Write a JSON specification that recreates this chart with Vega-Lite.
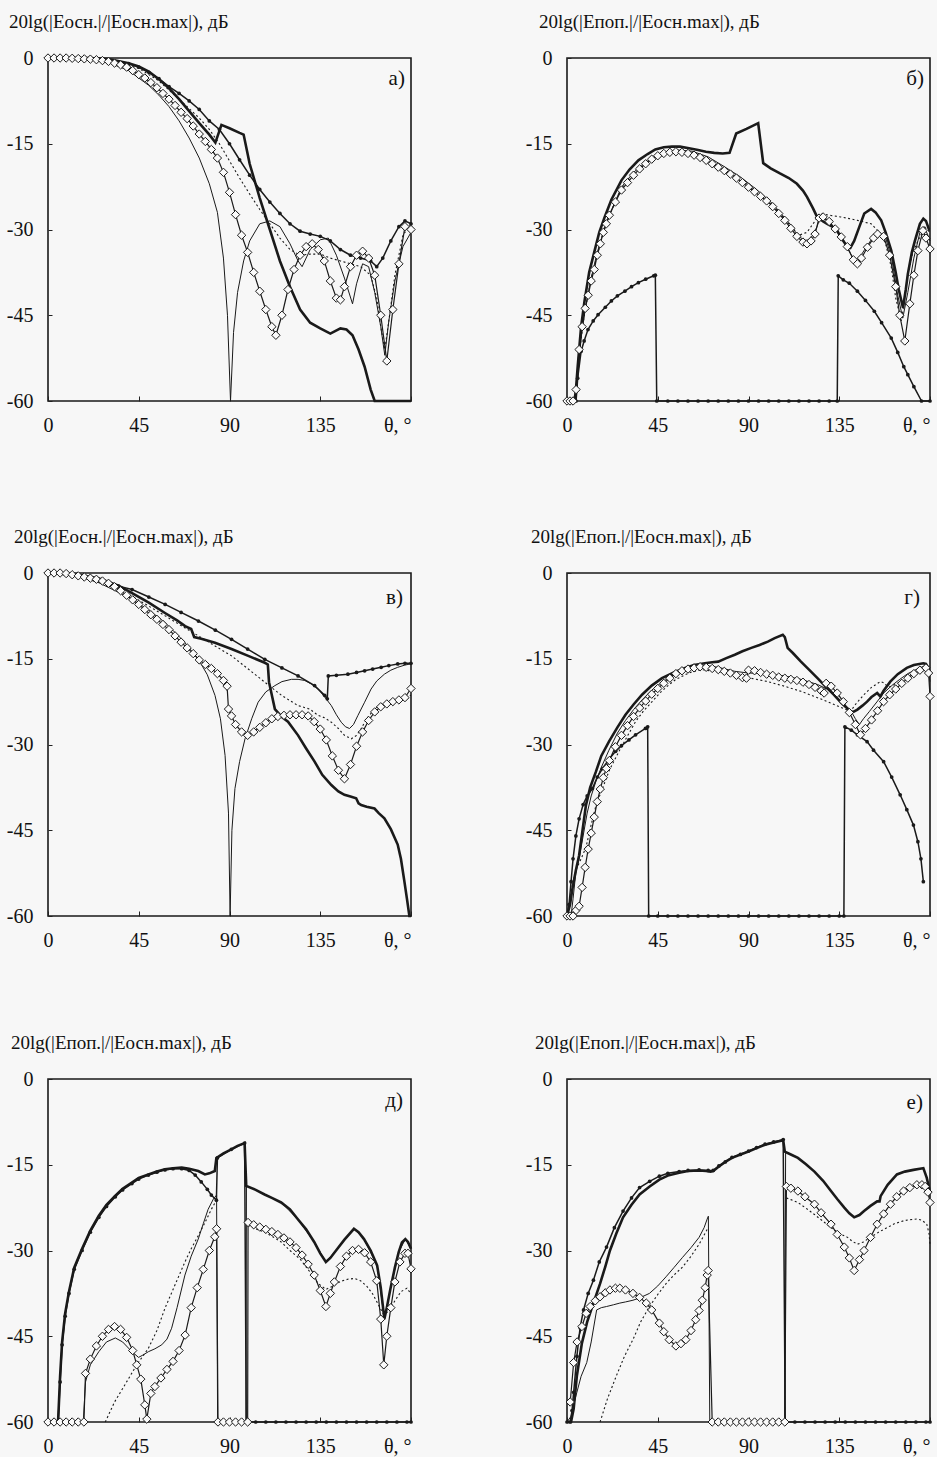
{
"$schema":"https://vega.github.io/schema/vega-lite/v6.json",
"background":"#f7f7f7",
"padding":{"left":5,"top":12,"right":0,"bottom":0},
"config":{
"view":{"stroke":"#1a1a1a","strokeWidth":1.6},
"axis":{"grid":false,"domain":false,"labelFont":"Liberation Serif","labelFontSize":20,"labelColor":"#111","tickColor":"#222","tickWidth":1,"labelOverlap":false},
"title":{"font":"Liberation Serif","fontSize":19,"fontWeight":"normal","color":"#111","anchor":"start","frame":"group","offset":16},
"line":{"color":"#1a1a1a"},
"point":{"color":"#1a1a1a"},
"text":{"color":"#111"}
},
"data":{"values":[
{"p":"a","s":"D","t":0,"v":0},{"p":"a","s":"D","t":3,"v":0},{"p":"a","s":"D","t":6,"v":0},{"p":"a","s":"D","t":9,"v":0},{"p":"a","s":"D","t":12,"v":-0.05},{"p":"a","s":"D","t":15,"v":-0.1},{"p":"a","s":"D","t":18,"v":-0.15},{"p":"a","s":"D","t":21,"v":-0.2},{"p":"a","s":"D","t":24,"v":-0.3},{"p":"a","s":"D","t":27,"v":-0.45},{"p":"a","s":"D","t":30,"v":-0.6},{"p":"a","s":"D","t":33,"v":-0.9},{"p":"a","s":"D","t":36,"v":-1.2},{"p":"a","s":"D","t":39,"v":-1.6},{"p":"a","s":"D","t":42,"v":-2.2},{"p":"a","s":"D","t":45,"v":-2.9},{"p":"a","s":"D","t":48,"v":-3.5},{"p":"a","s":"D","t":51,"v":-4.3},{"p":"a","s":"D","t":54,"v":-5.2},{"p":"a","s":"D","t":57,"v":-6.2},{"p":"a","s":"D","t":60,"v":-7.2},{"p":"a","s":"D","t":63,"v":-8.3},{"p":"a","s":"D","t":66,"v":-9.5},{"p":"a","s":"D","t":69,"v":-10.6},{"p":"a","s":"D","t":72,"v":-11.9},{"p":"a","s":"D","t":75,"v":-13.3},{"p":"a","s":"D","t":78,"v":-14.6},{"p":"a","s":"D","t":81,"v":-16},{"p":"a","s":"D","t":84,"v":-17.5},{"p":"a","s":"D","t":87,"v":-20},{"p":"a","s":"D","t":90,"v":-23.5},{"p":"a","s":"D","t":93,"v":-27.4},{"p":"a","s":"D","t":96,"v":-31},{"p":"a","s":"D","t":99,"v":-34},{"p":"a","s":"D","t":102,"v":-37.5},{"p":"a","s":"D","t":105,"v":-40.8},{"p":"a","s":"D","t":108,"v":-44},{"p":"a","s":"D","t":111,"v":-47},{"p":"a","s":"D","t":113,"v":-48.5},{"p":"a","s":"D","t":116,"v":-45},{"p":"a","s":"D","t":119,"v":-40.5},{"p":"a","s":"D","t":122,"v":-37},{"p":"a","s":"D","t":125,"v":-34.5},{"p":"a","s":"D","t":128,"v":-33},{"p":"a","s":"D","t":131,"v":-32.5},{"p":"a","s":"D","t":134,"v":-33.5},{"p":"a","s":"D","t":137,"v":-35.5},{"p":"a","s":"D","t":140,"v":-39},{"p":"a","s":"D","t":143,"v":-42},{"p":"a","s":"D","t":145,"v":-42.3},{"p":"a","s":"D","t":147,"v":-40},{"p":"a","s":"D","t":150,"v":-36.5},{"p":"a","s":"D","t":153,"v":-34.5},{"p":"a","s":"D","t":156,"v":-33.8},{"p":"a","s":"D","t":159,"v":-35},{"p":"a","s":"D","t":162,"v":-38},{"p":"a","s":"D","t":165,"v":-45},{"p":"a","s":"D","t":168,"v":-53},{"p":"a","s":"D","t":171,"v":-44},{"p":"a","s":"D","t":174,"v":-36},{"p":"a","s":"D","t":177,"v":-29.5},{"p":"a","s":"D","t":180,"v":-30},
{"p":"a","s":"K","t":0,"v":0},{"p":"a","s":"K","t":20,"v":0},{"p":"a","s":"K","t":30,"v":-0.2},{"p":"a","s":"K","t":40,"v":-0.9},{"p":"a","s":"K","t":45,"v":-1.5},{"p":"a","s":"K","t":50,"v":-2.4},{"p":"a","s":"K","t":55,"v":-3.7},{"p":"a","s":"K","t":60,"v":-5.3},{"p":"a","s":"K","t":65,"v":-7.2},{"p":"a","s":"K","t":70,"v":-9.3},{"p":"a","s":"K","t":75,"v":-11.4},{"p":"a","s":"K","t":80,"v":-13.4},{"p":"a","s":"K","t":83,"v":-14.8},{"p":"a","s":"K","t":86,"v":-11.7},{"p":"a","s":"K","t":90,"v":-12.3},{"p":"a","s":"K","t":95,"v":-13.1},{"p":"a","s":"K","t":97,"v":-13.4},{"p":"a","s":"K","t":100,"v":-18.5},{"p":"a","s":"K","t":105,"v":-24.5},{"p":"a","s":"K","t":110,"v":-30},{"p":"a","s":"K","t":115,"v":-35.5},{"p":"a","s":"K","t":120,"v":-40},{"p":"a","s":"K","t":125,"v":-44},{"p":"a","s":"K","t":130,"v":-46.3},{"p":"a","s":"K","t":135,"v":-47.3},{"p":"a","s":"K","t":140,"v":-48.2},{"p":"a","s":"K","t":145,"v":-47.3},{"p":"a","s":"K","t":148,"v":-47.5},{"p":"a","s":"K","t":151,"v":-48.5},{"p":"a","s":"K","t":154,"v":-51},{"p":"a","s":"K","t":157,"v":-54},{"p":"a","s":"K","t":160,"v":-58},{"p":"a","s":"K","t":162,"v":-60},{"p":"a","s":"K","t":170,"v":-60},{"p":"a","s":"K","t":180,"v":-60},
{"p":"a","s":"B","t":0,"v":0},{"p":"a","s":"B","t":10,"v":0},{"p":"a","s":"B","t":20,"v":-0.1},{"p":"a","s":"B","t":30,"v":-0.4},{"p":"a","s":"B","t":40,"v":-1},{"p":"a","s":"B","t":45,"v":-1.6},{"p":"a","s":"B","t":50,"v":-2.5},{"p":"a","s":"B","t":55,"v":-3.6},{"p":"a","s":"B","t":60,"v":-5},{"p":"a","s":"B","t":65,"v":-6.2},{"p":"a","s":"B","t":70,"v":-7.5},{"p":"a","s":"B","t":75,"v":-9},{"p":"a","s":"B","t":80,"v":-11},{"p":"a","s":"B","t":85,"v":-12.5},{"p":"a","s":"B","t":90,"v":-15},{"p":"a","s":"B","t":95,"v":-17.8},{"p":"a","s":"B","t":100,"v":-20.5},{"p":"a","s":"B","t":105,"v":-23},{"p":"a","s":"B","t":110,"v":-25.2},{"p":"a","s":"B","t":115,"v":-27.2},{"p":"a","s":"B","t":120,"v":-29},{"p":"a","s":"B","t":125,"v":-30.3},{"p":"a","s":"B","t":130,"v":-30.8},{"p":"a","s":"B","t":135,"v":-31.2},{"p":"a","s":"B","t":140,"v":-32},{"p":"a","s":"B","t":145,"v":-33.5},{"p":"a","s":"B","t":150,"v":-34.5},{"p":"a","s":"B","t":155,"v":-35},{"p":"a","s":"B","t":160,"v":-35.5},{"p":"a","s":"B","t":163,"v":-36.5},{"p":"a","s":"B","t":166,"v":-35},{"p":"a","s":"B","t":170,"v":-32},{"p":"a","s":"B","t":174,"v":-29.5},{"p":"a","s":"B","t":177,"v":-28.5},{"p":"a","s":"B","t":180,"v":-29},
{"p":"a","s":"N","t":0,"v":0},{"p":"a","s":"N","t":20,"v":-0.2},{"p":"a","s":"N","t":30,"v":-0.8},{"p":"a","s":"N","t":40,"v":-2.2},{"p":"a","s":"N","t":50,"v":-4.8},{"p":"a","s":"N","t":55,"v":-6.5},{"p":"a","s":"N","t":60,"v":-8.5},{"p":"a","s":"N","t":65,"v":-11},{"p":"a","s":"N","t":70,"v":-14},{"p":"a","s":"N","t":75,"v":-17.5},{"p":"a","s":"N","t":80,"v":-22},{"p":"a","s":"N","t":84,"v":-27},{"p":"a","s":"N","t":87,"v":-35},{"p":"a","s":"N","t":89,"v":-45},{"p":"a","s":"N","t":90.5,"v":-60},{"p":"a","s":"N","t":92,"v":-48},{"p":"a","s":"N","t":94,"v":-41},{"p":"a","s":"N","t":97,"v":-35.5},{"p":"a","s":"N","t":100,"v":-32},{"p":"a","s":"N","t":105,"v":-29},{"p":"a","s":"N","t":110,"v":-28.5},{"p":"a","s":"N","t":115,"v":-29.5},{"p":"a","s":"N","t":120,"v":-32.5},{"p":"a","s":"N","t":124,"v":-35.5},{"p":"a","s":"N","t":126,"v":-36.5},{"p":"a","s":"N","t":130,"v":-33.5},{"p":"a","s":"N","t":135,"v":-31.8},{"p":"a","s":"N","t":139,"v":-31.5},{"p":"a","s":"N","t":143,"v":-34.5},{"p":"a","s":"N","t":147,"v":-38.5},{"p":"a","s":"N","t":151,"v":-43},{"p":"a","s":"N","t":153,"v":-39.5},{"p":"a","s":"N","t":156,"v":-36},{"p":"a","s":"N","t":159,"v":-36.5},{"p":"a","s":"N","t":162,"v":-41},{"p":"a","s":"N","t":165,"v":-47},{"p":"a","s":"N","t":167,"v":-52},{"p":"a","s":"N","t":169,"v":-46},{"p":"a","s":"N","t":172,"v":-39},{"p":"a","s":"N","t":176,"v":-33},{"p":"a","s":"N","t":180,"v":-30.5},
{"p":"a","s":"T","t":0,"v":0},{"p":"a","s":"T","t":30,"v":-0.3},{"p":"a","s":"T","t":45,"v":-1.8},{"p":"a","s":"T","t":55,"v":-4},{"p":"a","s":"T","t":65,"v":-7.2},{"p":"a","s":"T","t":75,"v":-10.5},{"p":"a","s":"T","t":80,"v":-12.5},{"p":"a","s":"T","t":85,"v":-15},{"p":"a","s":"T","t":90,"v":-18},{"p":"a","s":"T","t":95,"v":-21},{"p":"a","s":"T","t":100,"v":-23.8},{"p":"a","s":"T","t":105,"v":-26.5},{"p":"a","s":"T","t":110,"v":-29},{"p":"a","s":"T","t":115,"v":-31.5},{"p":"a","s":"T","t":120,"v":-33.5},{"p":"a","s":"T","t":125,"v":-34.5},{"p":"a","s":"T","t":130,"v":-34.3},{"p":"a","s":"T","t":135,"v":-34.3},{"p":"a","s":"T","t":140,"v":-35},{"p":"a","s":"T","t":145,"v":-35.5},{"p":"a","s":"T","t":150,"v":-36},{"p":"a","s":"T","t":155,"v":-36.5},{"p":"a","s":"T","t":160,"v":-38},{"p":"a","s":"T","t":163,"v":-42},{"p":"a","s":"T","t":165,"v":-47},{"p":"a","s":"T","t":167,"v":-51},{"p":"a","s":"T","t":169,"v":-46},{"p":"a","s":"T","t":172,"v":-38},{"p":"a","s":"T","t":176,"v":-31},{"p":"a","s":"T","t":180,"v":-29},

{"p":"b","s":"D","t":0,"v":-60},{"p":"b","s":"D","t":1.5,"v":-60},{"p":"b","s":"D","t":3,"v":-60},{"p":"b","s":"D","t":4.5,"v":-58},{"p":"b","s":"D","t":6,"v":-51},{"p":"b","s":"D","t":7.5,"v":-47},{"p":"b","s":"D","t":9,"v":-43.8},{"p":"b","s":"D","t":10.5,"v":-41.5},{"p":"b","s":"D","t":12,"v":-39},{"p":"b","s":"D","t":13.5,"v":-37},{"p":"b","s":"D","t":15,"v":-34.5},{"p":"b","s":"D","t":16.5,"v":-32.5},{"p":"b","s":"D","t":18,"v":-30.5},{"p":"b","s":"D","t":19.5,"v":-29},{"p":"b","s":"D","t":21,"v":-27.5},{"p":"b","s":"D","t":24,"v":-25.2},{"p":"b","s":"D","t":27,"v":-23.1},{"p":"b","s":"D","t":30,"v":-21.8},{"p":"b","s":"D","t":33,"v":-20.5},{"p":"b","s":"D","t":36,"v":-19.4},{"p":"b","s":"D","t":39,"v":-18.5},{"p":"b","s":"D","t":42,"v":-17.7},{"p":"b","s":"D","t":45,"v":-17.1},{"p":"b","s":"D","t":48,"v":-16.7},{"p":"b","s":"D","t":51,"v":-16.5},{"p":"b","s":"D","t":54,"v":-16.4},{"p":"b","s":"D","t":57,"v":-16.5},{"p":"b","s":"D","t":60,"v":-16.7},{"p":"b","s":"D","t":63,"v":-17},{"p":"b","s":"D","t":66,"v":-17.4},{"p":"b","s":"D","t":69,"v":-17.9},{"p":"b","s":"D","t":72,"v":-18.5},{"p":"b","s":"D","t":75,"v":-19.1},{"p":"b","s":"D","t":78,"v":-19.7},{"p":"b","s":"D","t":81,"v":-20.3},{"p":"b","s":"D","t":84,"v":-21},{"p":"b","s":"D","t":87,"v":-21.8},{"p":"b","s":"D","t":90,"v":-22.6},{"p":"b","s":"D","t":93,"v":-23.4},{"p":"b","s":"D","t":96,"v":-24.2},{"p":"b","s":"D","t":99,"v":-25},{"p":"b","s":"D","t":102,"v":-26},{"p":"b","s":"D","t":105,"v":-27.2},{"p":"b","s":"D","t":108,"v":-28.4},{"p":"b","s":"D","t":111,"v":-29.8},{"p":"b","s":"D","t":114,"v":-31.2},{"p":"b","s":"D","t":117,"v":-32.2},{"p":"b","s":"D","t":119,"v":-32.5},{"p":"b","s":"D","t":121,"v":-32},{"p":"b","s":"D","t":123,"v":-30.8},{"p":"b","s":"D","t":125,"v":-28},{"p":"b","s":"D","t":127,"v":-27.8},{"p":"b","s":"D","t":130,"v":-28.6},{"p":"b","s":"D","t":133,"v":-29.9},{"p":"b","s":"D","t":136,"v":-31.3},{"p":"b","s":"D","t":139,"v":-33},{"p":"b","s":"D","t":142,"v":-35.3},{"p":"b","s":"D","t":144,"v":-36},{"p":"b","s":"D","t":146,"v":-35},{"p":"b","s":"D","t":149,"v":-33.1},{"p":"b","s":"D","t":152,"v":-31.5},{"p":"b","s":"D","t":154,"v":-30.8},{"p":"b","s":"D","t":157,"v":-31.2},{"p":"b","s":"D","t":160,"v":-34.5},{"p":"b","s":"D","t":163,"v":-40},{"p":"b","s":"D","t":165,"v":-45},{"p":"b","s":"D","t":167.5,"v":-49.5},{"p":"b","s":"D","t":170,"v":-43},{"p":"b","s":"D","t":172,"v":-38},{"p":"b","s":"D","t":174,"v":-33.7},{"p":"b","s":"D","t":176.5,"v":-30.2},{"p":"b","s":"D","t":178,"v":-31.5},{"p":"b","s":"D","t":180,"v":-33.4},
{"p":"b","s":"K","t":0,"v":-60},{"p":"b","s":"K","t":4,"v":-60},{"p":"b","s":"K","t":5.3,"v":-54},{"p":"b","s":"K","t":7,"v":-47},{"p":"b","s":"K","t":8.7,"v":-42.5},{"p":"b","s":"K","t":11,"v":-37.5},{"p":"b","s":"K","t":13.7,"v":-33.7},{"p":"b","s":"K","t":16,"v":-30.5},{"p":"b","s":"K","t":18.7,"v":-27.8},{"p":"b","s":"K","t":22,"v":-24.8},{"p":"b","s":"K","t":27,"v":-21.4},{"p":"b","s":"K","t":31,"v":-19.5},{"p":"b","s":"K","t":35.4,"v":-17.9},{"p":"b","s":"K","t":40,"v":-16.8},{"p":"b","s":"K","t":43.8,"v":-16},{"p":"b","s":"K","t":48,"v":-15.6},{"p":"b","s":"K","t":52,"v":-15.5},{"p":"b","s":"K","t":56,"v":-15.5},{"p":"b","s":"K","t":60.5,"v":-15.8},{"p":"b","s":"K","t":65,"v":-16.1},{"p":"b","s":"K","t":68.9,"v":-16.4},{"p":"b","s":"K","t":73,"v":-16.6},{"p":"b","s":"K","t":77.2,"v":-16.7},{"p":"b","s":"K","t":80.6,"v":-16.6},{"p":"b","s":"K","t":83.9,"v":-13.2},{"p":"b","s":"K","t":89,"v":-12.4},{"p":"b","s":"K","t":94.8,"v":-11.4},{"p":"b","s":"K","t":97.3,"v":-18.4},{"p":"b","s":"K","t":101,"v":-19.3},{"p":"b","s":"K","t":105.6,"v":-20.2},{"p":"b","s":"K","t":110,"v":-21},{"p":"b","s":"K","t":114,"v":-22},{"p":"b","s":"K","t":117,"v":-23.2},{"p":"b","s":"K","t":119,"v":-24.3},{"p":"b","s":"K","t":122,"v":-26.3},{"p":"b","s":"K","t":124,"v":-27.8},{"p":"b","s":"K","t":127,"v":-28.6},{"p":"b","s":"K","t":129,"v":-29},{"p":"b","s":"K","t":132,"v":-29.6},{"p":"b","s":"K","t":134,"v":-30.2},{"p":"b","s":"K","t":136,"v":-31.5},{"p":"b","s":"K","t":139,"v":-33},{"p":"b","s":"K","t":140.5,"v":-33.2},{"p":"b","s":"K","t":142.4,"v":-32},{"p":"b","s":"K","t":145,"v":-29.5},{"p":"b","s":"K","t":147.4,"v":-27.2},{"p":"b","s":"K","t":150.8,"v":-26.4},{"p":"b","s":"K","t":153,"v":-27},{"p":"b","s":"K","t":155.8,"v":-28.4},{"p":"b","s":"K","t":158,"v":-30.5},{"p":"b","s":"K","t":160.8,"v":-33.7},{"p":"b","s":"K","t":163,"v":-37.5},{"p":"b","s":"K","t":164.5,"v":-40.5},{"p":"b","s":"K","t":166.6,"v":-43.7},{"p":"b","s":"K","t":168,"v":-40.5},{"p":"b","s":"K","t":169,"v":-37.8},{"p":"b","s":"K","t":171,"v":-34},{"p":"b","s":"K","t":172.5,"v":-32},{"p":"b","s":"K","t":175,"v":-29},{"p":"b","s":"K","t":176.7,"v":-28.1},{"p":"b","s":"K","t":178,"v":-28.5},{"p":"b","s":"K","t":179.5,"v":-30},{"p":"b","s":"K","t":180,"v":-30},
{"p":"b","s":"B","t":0,"v":-60},{"p":"b","s":"B","t":4.5,"v":-60},{"p":"b","s":"B","t":5.3,"v":-56},{"p":"b","s":"B","t":7,"v":-51.3},{"p":"b","s":"B","t":8.5,"v":-49.5},{"p":"b","s":"B","t":10.4,"v":-47.5},{"p":"b","s":"B","t":13,"v":-46},{"p":"b","s":"B","t":15.4,"v":-44.9},{"p":"b","s":"B","t":19,"v":-43.6},{"p":"b","s":"B","t":22,"v":-42.5},{"p":"b","s":"B","t":25,"v":-41.6},{"p":"b","s":"B","t":28.7,"v":-40.8},{"p":"b","s":"B","t":32,"v":-40},{"p":"b","s":"B","t":35.4,"v":-39.3},{"p":"b","s":"B","t":39,"v":-38.7},{"p":"b","s":"B","t":43,"v":-38.1},{"p":"b","s":"B","t":43.8,"v":-38},{"p":"b","s":"B","t":44.5,"v":-60},{"p":"b","s":"B","t":50,"v":-60},{"p":"b","s":"B","t":55,"v":-60},{"p":"b","s":"B","t":60,"v":-60},{"p":"b","s":"B","t":65,"v":-60},{"p":"b","s":"B","t":70,"v":-60},{"p":"b","s":"B","t":75,"v":-60},{"p":"b","s":"B","t":80,"v":-60},{"p":"b","s":"B","t":85,"v":-60},{"p":"b","s":"B","t":90,"v":-60},{"p":"b","s":"B","t":95,"v":-60},{"p":"b","s":"B","t":100,"v":-60},{"p":"b","s":"B","t":105,"v":-60},{"p":"b","s":"B","t":110,"v":-60},{"p":"b","s":"B","t":115,"v":-60},{"p":"b","s":"B","t":120,"v":-60},{"p":"b","s":"B","t":125,"v":-60},{"p":"b","s":"B","t":130,"v":-60},{"p":"b","s":"B","t":134,"v":-60},{"p":"b","s":"B","t":134.5,"v":-38.1},{"p":"b","s":"B","t":137,"v":-38.8},{"p":"b","s":"B","t":140,"v":-39.4},{"p":"b","s":"B","t":144,"v":-40.8},{"p":"b","s":"B","t":148,"v":-42.4},{"p":"b","s":"B","t":152.4,"v":-44.3},{"p":"b","s":"B","t":156,"v":-46.3},{"p":"b","s":"B","t":160.8,"v":-49},{"p":"b","s":"B","t":164,"v":-51.5},{"p":"b","s":"B","t":167,"v":-54},{"p":"b","s":"B","t":169,"v":-55.4},{"p":"b","s":"B","t":172,"v":-57.5},{"p":"b","s":"B","t":175.8,"v":-60},{"p":"b","s":"B","t":180,"v":-60},
{"p":"b","s":"N","t":0,"v":-60},{"p":"b","s":"N","t":4.5,"v":-60},{"p":"b","s":"N","t":5.3,"v":-56},{"p":"b","s":"N","t":7,"v":-49},{"p":"b","s":"N","t":9,"v":-44},{"p":"b","s":"N","t":12,"v":-38.5},{"p":"b","s":"N","t":15,"v":-34},{"p":"b","s":"N","t":18,"v":-30.5},{"p":"b","s":"N","t":21,"v":-27.5},{"p":"b","s":"N","t":27,"v":-22.6},{"p":"b","s":"N","t":33,"v":-20},{"p":"b","s":"N","t":40,"v":-18},{"p":"b","s":"N","t":48,"v":-16.5},{"p":"b","s":"N","t":55,"v":-16.1},{"p":"b","s":"N","t":62,"v":-16.3},{"p":"b","s":"N","t":70,"v":-17.3},{"p":"b","s":"N","t":78,"v":-19},{"p":"b","s":"N","t":86,"v":-20.8},{"p":"b","s":"N","t":94,"v":-23},{"p":"b","s":"N","t":102,"v":-25.5},{"p":"b","s":"N","t":110,"v":-28.8},{"p":"b","s":"N","t":115,"v":-31.3},{"p":"b","s":"N","t":119,"v":-32},{"p":"b","s":"N","t":122,"v":-31},{"p":"b","s":"N","t":124,"v":-29.5},{"p":"b","s":"N","t":125.5,"v":-27.8},{"p":"b","s":"N","t":130,"v":-28.6},{"p":"b","s":"N","t":136,"v":-31.4},{"p":"b","s":"N","t":141,"v":-34.5},{"p":"b","s":"N","t":144,"v":-35.5},{"p":"b","s":"N","t":148,"v":-33.3},{"p":"b","s":"N","t":152,"v":-31.2},{"p":"b","s":"N","t":155,"v":-30.6},{"p":"b","s":"N","t":158,"v":-31.5},{"p":"b","s":"N","t":161,"v":-35},{"p":"b","s":"N","t":164,"v":-41.5},{"p":"b","s":"N","t":166.5,"v":-45.5},{"p":"b","s":"N","t":169,"v":-41},{"p":"b","s":"N","t":172,"v":-35},{"p":"b","s":"N","t":175,"v":-30.5},{"p":"b","s":"N","t":177,"v":-29.5},{"p":"b","s":"N","t":179,"v":-31},{"p":"b","s":"N","t":180,"v":-32},
{"p":"b","s":"T","t":0,"v":-60},{"p":"b","s":"T","t":4.5,"v":-60},{"p":"b","s":"T","t":5.3,"v":-55},{"p":"b","s":"T","t":7,"v":-49},{"p":"b","s":"T","t":9,"v":-44},{"p":"b","s":"T","t":12,"v":-38.5},{"p":"b","s":"T","t":15,"v":-34.5},{"p":"b","s":"T","t":18,"v":-30.5},{"p":"b","s":"T","t":21,"v":-27.5},{"p":"b","s":"T","t":27,"v":-22.8},{"p":"b","s":"T","t":35,"v":-19.5},{"p":"b","s":"T","t":44,"v":-17.2},{"p":"b","s":"T","t":52,"v":-16.3},{"p":"b","s":"T","t":61,"v":-16.6},{"p":"b","s":"T","t":69,"v":-17.7},{"p":"b","s":"T","t":77,"v":-19.3},{"p":"b","s":"T","t":86,"v":-21.2},{"p":"b","s":"T","t":94,"v":-23.4},{"p":"b","s":"T","t":102,"v":-25.8},{"p":"b","s":"T","t":110,"v":-29},{"p":"b","s":"T","t":115,"v":-31},{"p":"b","s":"T","t":119,"v":-30.5},{"p":"b","s":"T","t":122,"v":-29},{"p":"b","s":"T","t":125.7,"v":-27.2},{"p":"b","s":"T","t":130,"v":-27.5},{"p":"b","s":"T","t":135.7,"v":-27.8},{"p":"b","s":"T","t":140,"v":-28.1},{"p":"b","s":"T","t":144,"v":-28.4},{"p":"b","s":"T","t":150.8,"v":-29},{"p":"b","s":"T","t":155.8,"v":-30.8},{"p":"b","s":"T","t":158,"v":-32.5},{"p":"b","s":"T","t":160.8,"v":-36.6},{"p":"b","s":"T","t":163,"v":-42},{"p":"b","s":"T","t":165.8,"v":-46},{"p":"b","s":"T","t":167.5,"v":-42},{"p":"b","s":"T","t":169,"v":-37.8},{"p":"b","s":"T","t":171.5,"v":-34},{"p":"b","s":"T","t":174,"v":-32},{"p":"b","s":"T","t":177.5,"v":-29.6},{"p":"b","s":"T","t":180,"v":-30.5},

{"p":"v","s":"D","t":0,"v":0},{"p":"v","s":"D","t":3,"v":0},{"p":"v","s":"D","t":6,"v":0},{"p":"v","s":"D","t":9,"v":-0.1},{"p":"v","s":"D","t":12,"v":-0.3},{"p":"v","s":"D","t":15,"v":-0.5},{"p":"v","s":"D","t":18,"v":-0.7},{"p":"v","s":"D","t":21,"v":-0.9},{"p":"v","s":"D","t":24,"v":-1.1},{"p":"v","s":"D","t":27,"v":-1.4},{"p":"v","s":"D","t":30,"v":-1.8},{"p":"v","s":"D","t":33,"v":-2.4},{"p":"v","s":"D","t":36,"v":-3.1},{"p":"v","s":"D","t":39,"v":-3.9},{"p":"v","s":"D","t":42,"v":-4.7},{"p":"v","s":"D","t":45,"v":-5.5},{"p":"v","s":"D","t":48,"v":-6.4},{"p":"v","s":"D","t":51,"v":-7.3},{"p":"v","s":"D","t":54,"v":-8.1},{"p":"v","s":"D","t":57,"v":-9},{"p":"v","s":"D","t":60,"v":-9.9},{"p":"v","s":"D","t":63,"v":-11},{"p":"v","s":"D","t":66,"v":-12.1},{"p":"v","s":"D","t":69,"v":-13.1},{"p":"v","s":"D","t":72,"v":-14.1},{"p":"v","s":"D","t":75,"v":-15.2},{"p":"v","s":"D","t":78,"v":-16},{"p":"v","s":"D","t":81,"v":-16.7},{"p":"v","s":"D","t":84,"v":-17.6},{"p":"v","s":"D","t":87,"v":-18.8},{"p":"v","s":"D","t":88.8,"v":-19.8},{"p":"v","s":"D","t":89.5,"v":-23.8},{"p":"v","s":"D","t":91,"v":-25},{"p":"v","s":"D","t":93,"v":-26.5},{"p":"v","s":"D","t":96,"v":-27.8},{"p":"v","s":"D","t":99,"v":-28.4},{"p":"v","s":"D","t":102,"v":-27.8},{"p":"v","s":"D","t":105,"v":-27},{"p":"v","s":"D","t":108,"v":-26.2},{"p":"v","s":"D","t":111,"v":-25.5},{"p":"v","s":"D","t":114,"v":-25.1},{"p":"v","s":"D","t":117,"v":-24.9},{"p":"v","s":"D","t":120,"v":-24.8},{"p":"v","s":"D","t":123,"v":-24.8},{"p":"v","s":"D","t":126,"v":-24.8},{"p":"v","s":"D","t":129,"v":-25},{"p":"v","s":"D","t":132,"v":-26},{"p":"v","s":"D","t":135,"v":-27.3},{"p":"v","s":"D","t":138,"v":-29.2},{"p":"v","s":"D","t":141,"v":-32},{"p":"v","s":"D","t":144,"v":-34.5},{"p":"v","s":"D","t":147,"v":-36},{"p":"v","s":"D","t":150,"v":-33.5},{"p":"v","s":"D","t":153,"v":-30.3},{"p":"v","s":"D","t":156,"v":-27.8},{"p":"v","s":"D","t":159,"v":-25.8},{"p":"v","s":"D","t":162,"v":-24.3},{"p":"v","s":"D","t":165,"v":-23.4},{"p":"v","s":"D","t":168,"v":-22.9},{"p":"v","s":"D","t":171,"v":-22.5},{"p":"v","s":"D","t":174,"v":-22.2},{"p":"v","s":"D","t":177,"v":-21.8},{"p":"v","s":"D","t":180,"v":-20.2},
{"p":"v","s":"K","t":0,"v":0},{"p":"v","s":"K","t":15,"v":-0.3},{"p":"v","s":"K","t":25,"v":-0.9},{"p":"v","s":"K","t":35,"v":-2.2},{"p":"v","s":"K","t":41.7,"v":-3.5},{"p":"v","s":"K","t":50,"v":-5.2},{"p":"v","s":"K","t":58,"v":-7},{"p":"v","s":"K","t":64,"v":-8.3},{"p":"v","s":"K","t":68,"v":-9.3},{"p":"v","s":"K","t":71,"v":-9.8},{"p":"v","s":"K","t":72.5,"v":-11.2},{"p":"v","s":"K","t":76,"v":-11.5},{"p":"v","s":"K","t":82.8,"v":-12.2},{"p":"v","s":"K","t":91,"v":-13.3},{"p":"v","s":"K","t":99.3,"v":-14.5},{"p":"v","s":"K","t":107.5,"v":-15.7},{"p":"v","s":"K","t":109,"v":-16},{"p":"v","s":"K","t":109.6,"v":-19.1},{"p":"v","s":"K","t":112.5,"v":-23.8},{"p":"v","s":"K","t":116,"v":-25.2},{"p":"v","s":"K","t":119,"v":-26},{"p":"v","s":"K","t":124,"v":-28.4},{"p":"v","s":"K","t":128,"v":-30.7},{"p":"v","s":"K","t":132.2,"v":-33},{"p":"v","s":"K","t":136,"v":-35.3},{"p":"v","s":"K","t":140.5,"v":-37.1},{"p":"v","s":"K","t":144,"v":-38.2},{"p":"v","s":"K","t":147,"v":-38.8},{"p":"v","s":"K","t":150,"v":-39.1},{"p":"v","s":"K","t":152.8,"v":-39.4},{"p":"v","s":"K","t":154,"v":-40.3},{"p":"v","s":"K","t":155.3,"v":-40.6},{"p":"v","s":"K","t":158,"v":-40.9},{"p":"v","s":"K","t":161.9,"v":-41.2},{"p":"v","s":"K","t":164,"v":-42},{"p":"v","s":"K","t":166.8,"v":-42.9},{"p":"v","s":"K","t":170,"v":-44.8},{"p":"v","s":"K","t":173.4,"v":-47.5},{"p":"v","s":"K","t":175,"v":-50},{"p":"v","s":"K","t":176.7,"v":-53.9},{"p":"v","s":"K","t":178,"v":-57},{"p":"v","s":"K","t":179.2,"v":-60},{"p":"v","s":"K","t":180,"v":-60},
{"p":"v","s":"B","t":0,"v":0},{"p":"v","s":"B","t":15,"v":-0.4},{"p":"v","s":"B","t":25.2,"v":-1.4},{"p":"v","s":"B","t":35,"v":-2.3},{"p":"v","s":"B","t":41.7,"v":-2.9},{"p":"v","s":"B","t":50,"v":-4.2},{"p":"v","s":"B","t":58.1,"v":-5.5},{"p":"v","s":"B","t":66,"v":-6.9},{"p":"v","s":"B","t":74.6,"v":-8.4},{"p":"v","s":"B","t":83,"v":-10},{"p":"v","s":"B","t":91,"v":-11.6},{"p":"v","s":"B","t":99,"v":-13.3},{"p":"v","s":"B","t":107.5,"v":-15.1},{"p":"v","s":"B","t":116,"v":-16.6},{"p":"v","s":"B","t":124,"v":-18},{"p":"v","s":"B","t":132.2,"v":-19.7},{"p":"v","s":"B","t":137.2,"v":-21.4},{"p":"v","s":"B","t":138.5,"v":-22},{"p":"v","s":"B","t":139,"v":-18},{"p":"v","s":"B","t":143,"v":-17.9},{"p":"v","s":"B","t":148.7,"v":-17.7},{"p":"v","s":"B","t":153,"v":-17.4},{"p":"v","s":"B","t":157,"v":-17.1},{"p":"v","s":"B","t":161,"v":-16.8},{"p":"v","s":"B","t":165.2,"v":-16.5},{"p":"v","s":"B","t":169,"v":-16.2},{"p":"v","s":"B","t":173.4,"v":-15.9},{"p":"v","s":"B","t":177,"v":-15.8},{"p":"v","s":"B","t":180,"v":-15.8},
{"p":"v","s":"N","t":0,"v":0},{"p":"v","s":"N","t":15,"v":-0.6},{"p":"v","s":"N","t":25.2,"v":-1.7},{"p":"v","s":"N","t":35,"v":-3.4},{"p":"v","s":"N","t":41.7,"v":-4.6},{"p":"v","s":"N","t":50,"v":-6.5},{"p":"v","s":"N","t":58.1,"v":-8.7},{"p":"v","s":"N","t":66.4,"v":-11.6},{"p":"v","s":"N","t":74.6,"v":-15.1},{"p":"v","s":"N","t":79,"v":-17.8},{"p":"v","s":"N","t":82.8,"v":-21.4},{"p":"v","s":"N","t":85.5,"v":-25.5},{"p":"v","s":"N","t":87.8,"v":-31.9},{"p":"v","s":"N","t":89.5,"v":-42},{"p":"v","s":"N","t":90.3,"v":-60},{"p":"v","s":"N","t":91.2,"v":-45},{"p":"v","s":"N","t":92.7,"v":-37.7},{"p":"v","s":"N","t":95,"v":-33},{"p":"v","s":"N","t":97.7,"v":-29},{"p":"v","s":"N","t":101,"v":-25.5},{"p":"v","s":"N","t":104.2,"v":-22.6},{"p":"v","s":"N","t":108,"v":-20.8},{"p":"v","s":"N","t":112.5,"v":-19.7},{"p":"v","s":"N","t":116,"v":-19},{"p":"v","s":"N","t":120.7,"v":-18.6},{"p":"v","s":"N","t":124,"v":-18.6},{"p":"v","s":"N","t":127.3,"v":-18.8},{"p":"v","s":"N","t":130.5,"v":-19.4},{"p":"v","s":"N","t":133.9,"v":-20.3},{"p":"v","s":"N","t":137,"v":-21.6},{"p":"v","s":"N","t":140.5,"v":-23.2},{"p":"v","s":"N","t":143,"v":-24.8},{"p":"v","s":"N","t":145.4,"v":-26.1},{"p":"v","s":"N","t":147.5,"v":-26.9},{"p":"v","s":"N","t":149.5,"v":-27.2},{"p":"v","s":"N","t":151.5,"v":-26.5},{"p":"v","s":"N","t":153.7,"v":-24.9},{"p":"v","s":"N","t":157,"v":-22.6},{"p":"v","s":"N","t":160.2,"v":-20.3},{"p":"v","s":"N","t":163,"v":-18.9},{"p":"v","s":"N","t":166.8,"v":-17.7},{"p":"v","s":"N","t":170,"v":-17},{"p":"v","s":"N","t":173.4,"v":-16.5},{"p":"v","s":"N","t":177,"v":-16.1},{"p":"v","s":"N","t":180,"v":-15.9},
{"p":"v","s":"T","t":0,"v":0},{"p":"v","s":"T","t":15,"v":-0.5},{"p":"v","s":"T","t":25.2,"v":-1.4},{"p":"v","s":"T","t":33,"v":-2.7},{"p":"v","s":"T","t":41.7,"v":-4.1},{"p":"v","s":"T","t":50,"v":-5.8},{"p":"v","s":"T","t":58.1,"v":-7.5},{"p":"v","s":"T","t":66,"v":-9.2},{"p":"v","s":"T","t":74.6,"v":-11},{"p":"v","s":"T","t":83,"v":-12.8},{"p":"v","s":"T","t":91,"v":-14.5},{"p":"v","s":"T","t":99.3,"v":-16.8},{"p":"v","s":"T","t":107.5,"v":-19.1},{"p":"v","s":"T","t":115.8,"v":-21.4},{"p":"v","s":"T","t":124,"v":-23.2},{"p":"v","s":"T","t":129.8,"v":-23.8},{"p":"v","s":"T","t":133.9,"v":-24.9},{"p":"v","s":"T","t":137,"v":-25.3},{"p":"v","s":"T","t":140.5,"v":-26.1},{"p":"v","s":"T","t":144,"v":-27.2},{"p":"v","s":"T","t":147,"v":-28.4},{"p":"v","s":"T","t":150.4,"v":-29},{"p":"v","s":"T","t":153,"v":-28.4},{"p":"v","s":"T","t":155.3,"v":-27.2},{"p":"v","s":"T","t":158,"v":-25.5},{"p":"v","s":"T","t":161.9,"v":-23.8},{"p":"v","s":"T","t":165,"v":-23},{"p":"v","s":"T","t":168.5,"v":-22.6},{"p":"v","s":"T","t":174,"v":-22},{"p":"v","s":"T","t":180,"v":-21.4},

{"p":"g","s":"D","t":0,"v":-60},{"p":"g","s":"D","t":1.5,"v":-60},{"p":"g","s":"D","t":3,"v":-60},{"p":"g","s":"D","t":4.5,"v":-59},{"p":"g","s":"D","t":6,"v":-58.3},{"p":"g","s":"D","t":7.5,"v":-55},{"p":"g","s":"D","t":9,"v":-51.5},{"p":"g","s":"D","t":10.5,"v":-48.3},{"p":"g","s":"D","t":12,"v":-45.5},{"p":"g","s":"D","t":13.5,"v":-42.7},{"p":"g","s":"D","t":15,"v":-40},{"p":"g","s":"D","t":16.5,"v":-37.8},{"p":"g","s":"D","t":18,"v":-35.8},{"p":"g","s":"D","t":19.5,"v":-34.2},{"p":"g","s":"D","t":21,"v":-32.8},{"p":"g","s":"D","t":24,"v":-30.4},{"p":"g","s":"D","t":27,"v":-28.4},{"p":"g","s":"D","t":30,"v":-26.7},{"p":"g","s":"D","t":33,"v":-25.1},{"p":"g","s":"D","t":36,"v":-23.6},{"p":"g","s":"D","t":39,"v":-22.4},{"p":"g","s":"D","t":42,"v":-21.2},{"p":"g","s":"D","t":45,"v":-20.2},{"p":"g","s":"D","t":48,"v":-19.3},{"p":"g","s":"D","t":51,"v":-18.4},{"p":"g","s":"D","t":54,"v":-17.6},{"p":"g","s":"D","t":57,"v":-17.1},{"p":"g","s":"D","t":60,"v":-16.8},{"p":"g","s":"D","t":63,"v":-16.6},{"p":"g","s":"D","t":66,"v":-16.4},{"p":"g","s":"D","t":69,"v":-16.5},{"p":"g","s":"D","t":72,"v":-16.7},{"p":"g","s":"D","t":75,"v":-16.9},{"p":"g","s":"D","t":78,"v":-17.2},{"p":"g","s":"D","t":81,"v":-17.5},{"p":"g","s":"D","t":84,"v":-17.9},{"p":"g","s":"D","t":87,"v":-18.3},{"p":"g","s":"D","t":89,"v":-18.4},{"p":"g","s":"D","t":90,"v":-17},{"p":"g","s":"D","t":93,"v":-17.1},{"p":"g","s":"D","t":96,"v":-17.4},{"p":"g","s":"D","t":99,"v":-17.7},{"p":"g","s":"D","t":102,"v":-17.9},{"p":"g","s":"D","t":105,"v":-18.2},{"p":"g","s":"D","t":108,"v":-18.4},{"p":"g","s":"D","t":111,"v":-18.6},{"p":"g","s":"D","t":114,"v":-18.8},{"p":"g","s":"D","t":117,"v":-19.1},{"p":"g","s":"D","t":120,"v":-19.5},{"p":"g","s":"D","t":123,"v":-20},{"p":"g","s":"D","t":126,"v":-20.6},{"p":"g","s":"D","t":127.5,"v":-21},{"p":"g","s":"D","t":128.5,"v":-19.3},{"p":"g","s":"D","t":131,"v":-19.8},{"p":"g","s":"D","t":134,"v":-21},{"p":"g","s":"D","t":137,"v":-22.5},{"p":"g","s":"D","t":140,"v":-24.4},{"p":"g","s":"D","t":143,"v":-26.5},{"p":"g","s":"D","t":145.5,"v":-28.3},{"p":"g","s":"D","t":148,"v":-27.2},{"p":"g","s":"D","t":151,"v":-25.7},{"p":"g","s":"D","t":154,"v":-24.1},{"p":"g","s":"D","t":157,"v":-22.5},{"p":"g","s":"D","t":160,"v":-21.3},{"p":"g","s":"D","t":163,"v":-20.3},{"p":"g","s":"D","t":166,"v":-19.3},{"p":"g","s":"D","t":169,"v":-18.4},{"p":"g","s":"D","t":172,"v":-17.6},{"p":"g","s":"D","t":175,"v":-17},{"p":"g","s":"D","t":178,"v":-16.6},{"p":"g","s":"D","t":179.3,"v":-17.5},{"p":"g","s":"D","t":180,"v":-21.6},
{"p":"g","s":"K","t":0,"v":-60},{"p":"g","s":"K","t":1.5,"v":-58},{"p":"g","s":"K","t":2.8,"v":-55},{"p":"g","s":"K","t":4.4,"v":-52},{"p":"g","s":"K","t":6,"v":-49.4},{"p":"g","s":"K","t":7.7,"v":-45},{"p":"g","s":"K","t":9.4,"v":-40.6},{"p":"g","s":"K","t":11.5,"v":-37.5},{"p":"g","s":"K","t":14.3,"v":-34.8},{"p":"g","s":"K","t":17,"v":-32},{"p":"g","s":"K","t":20.8,"v":-29.5},{"p":"g","s":"K","t":25,"v":-27},{"p":"g","s":"K","t":29,"v":-24.8},{"p":"g","s":"K","t":33,"v":-23},{"p":"g","s":"K","t":37.2,"v":-21.3},{"p":"g","s":"K","t":42,"v":-19.7},{"p":"g","s":"K","t":47.1,"v":-18.4},{"p":"g","s":"K","t":53,"v":-17.4},{"p":"g","s":"K","t":58.6,"v":-16.6},{"p":"g","s":"K","t":63,"v":-16.1},{"p":"g","s":"K","t":68.4,"v":-15.8},{"p":"g","s":"K","t":72,"v":-15.6},{"p":"g","s":"K","t":75,"v":-15.5},{"p":"g","s":"K","t":79,"v":-14.9},{"p":"g","s":"K","t":83.2,"v":-14.3},{"p":"g","s":"K","t":87,"v":-13.7},{"p":"g","s":"K","t":91.4,"v":-13.1},{"p":"g","s":"K","t":95.5,"v":-12.6},{"p":"g","s":"K","t":99.6,"v":-12},{"p":"g","s":"K","t":103,"v":-11.4},{"p":"g","s":"K","t":107,"v":-10.8},{"p":"g","s":"K","t":108,"v":-11.2},{"p":"g","s":"K","t":109.4,"v":-13.1},{"p":"g","s":"K","t":112,"v":-14},{"p":"g","s":"K","t":116,"v":-15.5},{"p":"g","s":"K","t":120,"v":-16.9},{"p":"g","s":"K","t":124.2,"v":-18.4},{"p":"g","s":"K","t":128,"v":-19.8},{"p":"g","s":"K","t":132.4,"v":-21.3},{"p":"g","s":"K","t":136,"v":-22.7},{"p":"g","s":"K","t":140.6,"v":-24.2},{"p":"g","s":"K","t":142,"v":-24.3},{"p":"g","s":"K","t":144,"v":-23.9},{"p":"g","s":"K","t":146.5,"v":-23.2},{"p":"g","s":"K","t":148.8,"v":-22.5},{"p":"g","s":"K","t":151,"v":-21.7},{"p":"g","s":"K","t":153.8,"v":-21},{"p":"g","s":"K","t":155.4,"v":-21.6},{"p":"g","s":"K","t":157,"v":-20.6},{"p":"g","s":"K","t":160.3,"v":-19},{"p":"g","s":"K","t":164,"v":-17.7},{"p":"g","s":"K","t":168.5,"v":-16.6},{"p":"g","s":"K","t":172,"v":-16.1},{"p":"g","s":"K","t":176.7,"v":-15.8},{"p":"g","s":"K","t":178,"v":-15.9},{"p":"g","s":"K","t":179.2,"v":-16.6},{"p":"g","s":"K","t":180,"v":-17.8},
{"p":"g","s":"B","t":0,"v":-60},{"p":"g","s":"B","t":1,"v":-58},{"p":"g","s":"B","t":2,"v":-54},{"p":"g","s":"B","t":3,"v":-50},{"p":"g","s":"B","t":4.4,"v":-46},{"p":"g","s":"B","t":6,"v":-43},{"p":"g","s":"B","t":8,"v":-40.5},{"p":"g","s":"B","t":10,"v":-39},{"p":"g","s":"B","t":12.6,"v":-37.7},{"p":"g","s":"B","t":15,"v":-35.7},{"p":"g","s":"B","t":17.6,"v":-34.2},{"p":"g","s":"B","t":21,"v":-32.5},{"p":"g","s":"B","t":24.1,"v":-31.2},{"p":"g","s":"B","t":27,"v":-30.2},{"p":"g","s":"B","t":30.7,"v":-29.2},{"p":"g","s":"B","t":34,"v":-28.3},{"p":"g","s":"B","t":38.9,"v":-27.2},{"p":"g","s":"B","t":40,"v":-26.9},{"p":"g","s":"B","t":40.5,"v":-60},{"p":"g","s":"B","t":45,"v":-60},{"p":"g","s":"B","t":50,"v":-60},{"p":"g","s":"B","t":55,"v":-60},{"p":"g","s":"B","t":60,"v":-60},{"p":"g","s":"B","t":65,"v":-60},{"p":"g","s":"B","t":70,"v":-60},{"p":"g","s":"B","t":75,"v":-60},{"p":"g","s":"B","t":80,"v":-60},{"p":"g","s":"B","t":85,"v":-60},{"p":"g","s":"B","t":90,"v":-60},{"p":"g","s":"B","t":95,"v":-60},{"p":"g","s":"B","t":100,"v":-60},{"p":"g","s":"B","t":105,"v":-60},{"p":"g","s":"B","t":110,"v":-60},{"p":"g","s":"B","t":115,"v":-60},{"p":"g","s":"B","t":120,"v":-60},{"p":"g","s":"B","t":125,"v":-60},{"p":"g","s":"B","t":130,"v":-60},{"p":"g","s":"B","t":135,"v":-60},{"p":"g","s":"B","t":137.3,"v":-60},{"p":"g","s":"B","t":137.8,"v":-26.9},{"p":"g","s":"B","t":141,"v":-27.5},{"p":"g","s":"B","t":144,"v":-28.3},{"p":"g","s":"B","t":148.8,"v":-29.5},{"p":"g","s":"B","t":152,"v":-31},{"p":"g","s":"B","t":157,"v":-33},{"p":"g","s":"B","t":161,"v":-35.7},{"p":"g","s":"B","t":165.2,"v":-38.8},{"p":"g","s":"B","t":168.5,"v":-41.4},{"p":"g","s":"B","t":171.8,"v":-44.1},{"p":"g","s":"B","t":174,"v":-47},{"p":"g","s":"B","t":175.5,"v":-50},{"p":"g","s":"B","t":176.7,"v":-54},
{"p":"g","s":"N","t":0,"v":-60},{"p":"g","s":"N","t":2,"v":-60},{"p":"g","s":"N","t":3,"v":-57},{"p":"g","s":"N","t":4.5,"v":-52},{"p":"g","s":"N","t":6,"v":-50},{"p":"g","s":"N","t":8,"v":-46},{"p":"g","s":"N","t":10,"v":-42},{"p":"g","s":"N","t":12,"v":-39},{"p":"g","s":"N","t":14.3,"v":-36.5},{"p":"g","s":"N","t":17,"v":-34},{"p":"g","s":"N","t":20.8,"v":-31},{"p":"g","s":"N","t":25,"v":-28},{"p":"g","s":"N","t":29,"v":-25.8},{"p":"g","s":"N","t":33,"v":-23.9},{"p":"g","s":"N","t":37.2,"v":-22.2},{"p":"g","s":"N","t":42,"v":-20.5},{"p":"g","s":"N","t":47.1,"v":-19.1},{"p":"g","s":"N","t":53,"v":-17.8},{"p":"g","s":"N","t":58.6,"v":-17},{"p":"g","s":"N","t":63,"v":-16.5},{"p":"g","s":"N","t":68.4,"v":-16.2},{"p":"g","s":"N","t":75,"v":-16.5},{"p":"g","s":"N","t":83.2,"v":-17.2},{"p":"g","s":"N","t":90,"v":-17.5},{"p":"g","s":"N","t":99.6,"v":-17.6},{"p":"g","s":"N","t":107.8,"v":-18},{"p":"g","s":"N","t":116,"v":-18.6},{"p":"g","s":"N","t":124.2,"v":-19.5},{"p":"g","s":"N","t":129,"v":-20.3},{"p":"g","s":"N","t":133,"v":-21.5},{"p":"g","s":"N","t":137,"v":-22.8},{"p":"g","s":"N","t":140.6,"v":-24},{"p":"g","s":"N","t":143,"v":-25.5},{"p":"g","s":"N","t":145,"v":-26.5},{"p":"g","s":"N","t":147,"v":-25.5},{"p":"g","s":"N","t":150,"v":-24.2},{"p":"g","s":"N","t":154,"v":-22.4},{"p":"g","s":"N","t":157,"v":-21},{"p":"g","s":"N","t":161,"v":-19.7},{"p":"g","s":"N","t":165,"v":-18.6},{"p":"g","s":"N","t":169,"v":-17.6},{"p":"g","s":"N","t":173,"v":-16.9},{"p":"g","s":"N","t":177,"v":-16.3},{"p":"g","s":"N","t":179,"v":-16.8},{"p":"g","s":"N","t":180,"v":-19},
{"p":"g","s":"T","t":1,"v":-58},{"p":"g","s":"T","t":3,"v":-54},{"p":"g","s":"T","t":5,"v":-51.5},{"p":"g","s":"T","t":7,"v":-50},{"p":"g","s":"T","t":9.4,"v":-48},{"p":"g","s":"T","t":12,"v":-44},{"p":"g","s":"T","t":14.5,"v":-40.5},{"p":"g","s":"T","t":17.6,"v":-37.7},{"p":"g","s":"T","t":21,"v":-34.5},{"p":"g","s":"T","t":25.8,"v":-31.2},{"p":"g","s":"T","t":30,"v":-28.5},{"p":"g","s":"T","t":34,"v":-26},{"p":"g","s":"T","t":38,"v":-24.1},{"p":"g","s":"T","t":42.2,"v":-22.5},{"p":"g","s":"T","t":46,"v":-21},{"p":"g","s":"T","t":50.4,"v":-19.6},{"p":"g","s":"T","t":54,"v":-18.6},{"p":"g","s":"T","t":58.6,"v":-17.8},{"p":"g","s":"T","t":62,"v":-17.3},{"p":"g","s":"T","t":66.8,"v":-16.9},{"p":"g","s":"T","t":75,"v":-17.3},{"p":"g","s":"T","t":83.2,"v":-17.8},{"p":"g","s":"T","t":91,"v":-18.4},{"p":"g","s":"T","t":99.6,"v":-19},{"p":"g","s":"T","t":107.8,"v":-19.8},{"p":"g","s":"T","t":116,"v":-20.7},{"p":"g","s":"T","t":122,"v":-21.5},{"p":"g","s":"T","t":129.1,"v":-22.5},{"p":"g","s":"T","t":135,"v":-23.4},{"p":"g","s":"T","t":140.6,"v":-24.2},{"p":"g","s":"T","t":143,"v":-23},{"p":"g","s":"T","t":147.2,"v":-21.3},{"p":"g","s":"T","t":151,"v":-20},{"p":"g","s":"T","t":155.4,"v":-19},{"p":"g","s":"T","t":157,"v":-19.2},{"p":"g","s":"T","t":158.5,"v":-19.7},{"p":"g","s":"T","t":160.3,"v":-19.9},{"p":"g","s":"T","t":164,"v":-19.3},{"p":"g","s":"T","t":168.5,"v":-18.4},{"p":"g","s":"T","t":173,"v":-17.6},{"p":"g","s":"T","t":178.3,"v":-16.9},{"p":"g","s":"T","t":180,"v":-17.5},

{"p":"d","s":"D","t":0,"v":-60},{"p":"d","s":"D","t":3,"v":-60},{"p":"d","s":"D","t":6,"v":-60},{"p":"d","s":"D","t":9,"v":-60},{"p":"d","s":"D","t":12,"v":-60},{"p":"d","s":"D","t":15,"v":-60},{"p":"d","s":"D","t":17.8,"v":-60},{"p":"d","s":"D","t":18.6,"v":-51.5},{"p":"d","s":"D","t":21,"v":-49},{"p":"d","s":"D","t":24,"v":-46.7},{"p":"d","s":"D","t":27,"v":-45},{"p":"d","s":"D","t":30,"v":-43.8},{"p":"d","s":"D","t":33,"v":-43.3},{"p":"d","s":"D","t":36,"v":-43.8},{"p":"d","s":"D","t":39,"v":-45.2},{"p":"d","s":"D","t":42,"v":-47.5},{"p":"d","s":"D","t":44,"v":-50},{"p":"d","s":"D","t":46,"v":-52.5},{"p":"d","s":"D","t":48,"v":-57},{"p":"d","s":"D","t":49,"v":-59.5},{"p":"d","s":"D","t":51,"v":-55},{"p":"d","s":"D","t":53,"v":-53.8},{"p":"d","s":"D","t":56,"v":-52.3},{"p":"d","s":"D","t":59,"v":-50.8},{"p":"d","s":"D","t":62,"v":-49.4},{"p":"d","s":"D","t":65,"v":-47.5},{"p":"d","s":"D","t":68,"v":-44.8},{"p":"d","s":"D","t":71,"v":-40},{"p":"d","s":"D","t":74,"v":-36.5},{"p":"d","s":"D","t":77,"v":-33.3},{"p":"d","s":"D","t":80,"v":-30},{"p":"d","s":"D","t":82.7,"v":-27.6},{"p":"d","s":"D","t":83.6,"v":-26.2},{"p":"d","s":"D","t":84.3,"v":-60},{"p":"d","s":"D","t":87,"v":-60},{"p":"d","s":"D","t":90,"v":-60},{"p":"d","s":"D","t":93,"v":-60},{"p":"d","s":"D","t":96,"v":-60},{"p":"d","s":"D","t":99,"v":-60},{"p":"d","s":"D","t":99.2,"v":-25.1},{"p":"d","s":"D","t":102,"v":-25.5},{"p":"d","s":"D","t":105,"v":-25.9},{"p":"d","s":"D","t":108,"v":-26.3},{"p":"d","s":"D","t":111,"v":-26.7},{"p":"d","s":"D","t":114,"v":-27.2},{"p":"d","s":"D","t":117,"v":-27.8},{"p":"d","s":"D","t":120,"v":-28.5},{"p":"d","s":"D","t":123,"v":-29.5},{"p":"d","s":"D","t":126,"v":-30.8},{"p":"d","s":"D","t":129,"v":-32.4},{"p":"d","s":"D","t":132,"v":-34.3},{"p":"d","s":"D","t":135,"v":-37},{"p":"d","s":"D","t":137.8,"v":-39.8},{"p":"d","s":"D","t":140,"v":-37.5},{"p":"d","s":"D","t":142,"v":-35.5},{"p":"d","s":"D","t":145,"v":-32.8},{"p":"d","s":"D","t":148,"v":-31},{"p":"d","s":"D","t":151,"v":-30},{"p":"d","s":"D","t":154,"v":-29.8},{"p":"d","s":"D","t":157,"v":-30.4},{"p":"d","s":"D","t":160,"v":-32},{"p":"d","s":"D","t":163,"v":-35.3},{"p":"d","s":"D","t":165,"v":-42},{"p":"d","s":"D","t":166.5,"v":-50},{"p":"d","s":"D","t":168,"v":-45},{"p":"d","s":"D","t":170,"v":-40},{"p":"d","s":"D","t":172,"v":-35.5},{"p":"d","s":"D","t":174.5,"v":-32},{"p":"d","s":"D","t":177,"v":-30.5},{"p":"d","s":"D","t":178.5,"v":-30.5},{"p":"d","s":"D","t":180,"v":-33.2},
{"p":"d","s":"K","t":0,"v":-60},{"p":"d","s":"K","t":5,"v":-60},{"p":"d","s":"K","t":6,"v":-52},{"p":"d","s":"K","t":7,"v":-46},{"p":"d","s":"K","t":8.5,"v":-41},{"p":"d","s":"K","t":10.4,"v":-37.2},{"p":"d","s":"K","t":13,"v":-33},{"p":"d","s":"K","t":16.9,"v":-29.7},{"p":"d","s":"K","t":21,"v":-26.5},{"p":"d","s":"K","t":25.2,"v":-23.9},{"p":"d","s":"K","t":29,"v":-22},{"p":"d","s":"K","t":33.4,"v":-20.4},{"p":"d","s":"K","t":37,"v":-19.2},{"p":"d","s":"K","t":41.6,"v":-18.1},{"p":"d","s":"K","t":45,"v":-17.3},{"p":"d","s":"K","t":49.8,"v":-16.7},{"p":"d","s":"K","t":54,"v":-16.2},{"p":"d","s":"K","t":58,"v":-15.8},{"p":"d","s":"K","t":62,"v":-15.6},{"p":"d","s":"K","t":66.3,"v":-15.5},{"p":"d","s":"K","t":70,"v":-15.7},{"p":"d","s":"K","t":74.5,"v":-16.1},{"p":"d","s":"K","t":77.8,"v":-16.7},{"p":"d","s":"K","t":80,"v":-16.5},{"p":"d","s":"K","t":82.7,"v":-16.1},{"p":"d","s":"K","t":83.5,"v":-13.8},{"p":"d","s":"K","t":87,"v":-13},{"p":"d","s":"K","t":90.9,"v":-12.3},{"p":"d","s":"K","t":94,"v":-11.7},{"p":"d","s":"K","t":97.5,"v":-11.2},{"p":"d","s":"K","t":98.3,"v":-18.7},{"p":"d","s":"K","t":103,"v":-19.4},{"p":"d","s":"K","t":107.4,"v":-20.2},{"p":"d","s":"K","t":111,"v":-20.8},{"p":"d","s":"K","t":115.6,"v":-21.6},{"p":"d","s":"K","t":120,"v":-22.8},{"p":"d","s":"K","t":123.8,"v":-24.5},{"p":"d","s":"K","t":128,"v":-26.3},{"p":"d","s":"K","t":132,"v":-28.5},{"p":"d","s":"K","t":135,"v":-30.5},{"p":"d","s":"K","t":137.8,"v":-32},{"p":"d","s":"K","t":140,"v":-31.3},{"p":"d","s":"K","t":143.5,"v":-29.7},{"p":"d","s":"K","t":147,"v":-28.1},{"p":"d","s":"K","t":151.7,"v":-26.2},{"p":"d","s":"K","t":154,"v":-26.8},{"p":"d","s":"K","t":156.7,"v":-28},{"p":"d","s":"K","t":160,"v":-30},{"p":"d","s":"K","t":163.2,"v":-32.6},{"p":"d","s":"K","t":165,"v":-36.5},{"p":"d","s":"K","t":166.8,"v":-42},{"p":"d","s":"K","t":168,"v":-40},{"p":"d","s":"K","t":169.8,"v":-36.7},{"p":"d","s":"K","t":172,"v":-33},{"p":"d","s":"K","t":173.9,"v":-30.3},{"p":"d","s":"K","t":175.5,"v":-28.6},{"p":"d","s":"K","t":177.2,"v":-28},{"p":"d","s":"K","t":178.5,"v":-28.5},{"p":"d","s":"K","t":180,"v":-29.7},
{"p":"d","s":"B","t":0,"v":-60},{"p":"d","s":"B","t":5,"v":-60},{"p":"d","s":"B","t":6,"v":-53},{"p":"d","s":"B","t":7,"v":-46.5},{"p":"d","s":"B","t":8.5,"v":-41.5},{"p":"d","s":"B","t":10.4,"v":-37.5},{"p":"d","s":"B","t":13,"v":-33.3},{"p":"d","s":"B","t":16.9,"v":-30},{"p":"d","s":"B","t":21,"v":-26.8},{"p":"d","s":"B","t":25.2,"v":-24.2},{"p":"d","s":"B","t":29,"v":-22.3},{"p":"d","s":"B","t":33.4,"v":-20.6},{"p":"d","s":"B","t":37,"v":-19.4},{"p":"d","s":"B","t":41.6,"v":-18.3},{"p":"d","s":"B","t":45,"v":-17.5},{"p":"d","s":"B","t":49.8,"v":-16.8},{"p":"d","s":"B","t":54,"v":-16.3},{"p":"d","s":"B","t":58,"v":-15.9},{"p":"d","s":"B","t":62,"v":-15.7},{"p":"d","s":"B","t":66.3,"v":-15.7},{"p":"d","s":"B","t":70,"v":-16},{"p":"d","s":"B","t":73,"v":-16.8},{"p":"d","s":"B","t":76,"v":-18},{"p":"d","s":"B","t":79,"v":-19.3},{"p":"d","s":"B","t":81,"v":-20.3},{"p":"d","s":"B","t":83.5,"v":-21.2},{"p":"d","s":"B","t":84,"v":-13.8},{"p":"d","s":"B","t":90.9,"v":-12.3},{"p":"d","s":"B","t":97.5,"v":-11.2},{"p":"d","s":"B","t":98.3,"v":-60},{"p":"d","s":"B","t":103,"v":-60},{"p":"d","s":"B","t":108,"v":-60},{"p":"d","s":"B","t":113,"v":-60},{"p":"d","s":"B","t":118,"v":-60},{"p":"d","s":"B","t":123,"v":-60},{"p":"d","s":"B","t":128,"v":-60},{"p":"d","s":"B","t":133,"v":-60},{"p":"d","s":"B","t":138,"v":-60},{"p":"d","s":"B","t":143,"v":-60},{"p":"d","s":"B","t":148,"v":-60},{"p":"d","s":"B","t":153,"v":-60},{"p":"d","s":"B","t":158,"v":-60},{"p":"d","s":"B","t":163,"v":-60},{"p":"d","s":"B","t":168,"v":-60},{"p":"d","s":"B","t":173,"v":-60},{"p":"d","s":"B","t":178,"v":-60},{"p":"d","s":"B","t":180,"v":-60},
{"p":"d","s":"N","t":0,"v":-60},{"p":"d","s":"N","t":17.5,"v":-60},{"p":"d","s":"N","t":18.6,"v":-53},{"p":"d","s":"N","t":21,"v":-50},{"p":"d","s":"N","t":25.2,"v":-47.7},{"p":"d","s":"N","t":29,"v":-46},{"p":"d","s":"N","t":33.4,"v":-45.3},{"p":"d","s":"N","t":37,"v":-46},{"p":"d","s":"N","t":41.6,"v":-47.7},{"p":"d","s":"N","t":44.9,"v":-48.7},{"p":"d","s":"N","t":47,"v":-48.3},{"p":"d","s":"N","t":49.8,"v":-47.7},{"p":"d","s":"N","t":53,"v":-47.2},{"p":"d","s":"N","t":56.4,"v":-46.5},{"p":"d","s":"N","t":59,"v":-45.5},{"p":"d","s":"N","t":61.3,"v":-43.6},{"p":"d","s":"N","t":64,"v":-40},{"p":"d","s":"N","t":67.9,"v":-34.3},{"p":"d","s":"N","t":71,"v":-31},{"p":"d","s":"N","t":74.5,"v":-28},{"p":"d","s":"N","t":77,"v":-25.3},{"p":"d","s":"N","t":79.4,"v":-22.8},{"p":"d","s":"N","t":82,"v":-21},{"p":"d","s":"N","t":83.6,"v":-20.3},{"p":"d","s":"N","t":84.1,"v":-60},{"p":"d","s":"N","t":98.2,"v":-60},{"p":"d","s":"N","t":98.4,"v":-18.7},{"p":"d","s":"N","t":103,"v":-19.4},{"p":"d","s":"N","t":107.4,"v":-20.2},{"p":"d","s":"N","t":115.6,"v":-21.6},{"p":"d","s":"N","t":123.8,"v":-24.5},{"p":"d","s":"N","t":132,"v":-28.5},{"p":"d","s":"N","t":137.8,"v":-32},{"p":"d","s":"N","t":143.5,"v":-29.7},{"p":"d","s":"N","t":151.7,"v":-26.2},{"p":"d","s":"N","t":156.7,"v":-28},{"p":"d","s":"N","t":163.2,"v":-32.6},{"p":"d","s":"N","t":166.8,"v":-42},{"p":"d","s":"N","t":169.8,"v":-36.7},{"p":"d","s":"N","t":173.9,"v":-30.3},{"p":"d","s":"N","t":177.2,"v":-28},{"p":"d","s":"N","t":180,"v":-29.7},
{"p":"d","s":"T","t":28.4,"v":-60},{"p":"d","s":"T","t":33,"v":-56.5},{"p":"d","s":"T","t":38.3,"v":-53.4},{"p":"d","s":"T","t":44,"v":-50},{"p":"d","s":"T","t":49.8,"v":-47.1},{"p":"d","s":"T","t":54,"v":-44},{"p":"d","s":"T","t":58,"v":-40.1},{"p":"d","s":"T","t":63,"v":-36},{"p":"d","s":"T","t":67.9,"v":-32},{"p":"d","s":"T","t":71,"v":-29.7},{"p":"d","s":"T","t":74.5,"v":-27.4},{"p":"d","s":"T","t":78,"v":-25},{"p":"d","s":"T","t":81,"v":-22.8},{"p":"d","s":"T","t":83.5,"v":-21.2},
{"p":"d","s":"T2","t":99.1,"v":-25.6},{"p":"d","s":"T2","t":103,"v":-26.2},{"p":"d","s":"T2","t":107.4,"v":-26.8},{"p":"d","s":"T2","t":111,"v":-27.5},{"p":"d","s":"T2","t":115.6,"v":-28.5},{"p":"d","s":"T2","t":120,"v":-30},{"p":"d","s":"T2","t":125,"v":-31.5},{"p":"d","s":"T2","t":130,"v":-33.8},{"p":"d","s":"T2","t":134,"v":-35.8},{"p":"d","s":"T2","t":137.8,"v":-36.8},{"p":"d","s":"T2","t":141,"v":-36.3},{"p":"d","s":"T2","t":145,"v":-35.4},{"p":"d","s":"T2","t":149,"v":-35},{"p":"d","s":"T2","t":152,"v":-34.9},{"p":"d","s":"T2","t":155,"v":-35.3},{"p":"d","s":"T2","t":158,"v":-36.2},{"p":"d","s":"T2","t":161,"v":-37.6},{"p":"d","s":"T2","t":164,"v":-39.6},{"p":"d","s":"T2","t":166.5,"v":-41.2},{"p":"d","s":"T2","t":169,"v":-40.6},{"p":"d","s":"T2","t":172,"v":-38.8},{"p":"d","s":"T2","t":175,"v":-37.2},{"p":"d","s":"T2","t":178,"v":-36.6},{"p":"d","s":"T2","t":180,"v":-37.6},

{"p":"e","s":"D","t":1.6,"v":-56.5},{"p":"e","s":"D","t":3.3,"v":-49.6},{"p":"e","s":"D","t":5,"v":-46},{"p":"e","s":"D","t":7.4,"v":-43.3},{"p":"e","s":"D","t":9.5,"v":-41},{"p":"e","s":"D","t":11.5,"v":-39.8},{"p":"e","s":"D","t":14,"v":-38.8},{"p":"e","s":"D","t":16.4,"v":-38.1},{"p":"e","s":"D","t":19,"v":-37.4},{"p":"e","s":"D","t":21.3,"v":-36.9},{"p":"e","s":"D","t":24,"v":-36.6},{"p":"e","s":"D","t":26.2,"v":-36.6},{"p":"e","s":"D","t":29,"v":-36.9},{"p":"e","s":"D","t":32.7,"v":-37.5},{"p":"e","s":"D","t":36,"v":-38.2},{"p":"e","s":"D","t":39.3,"v":-39.2},{"p":"e","s":"D","t":42,"v":-40.4},{"p":"e","s":"D","t":45.8,"v":-42.7},{"p":"e","s":"D","t":48,"v":-44.2},{"p":"e","s":"D","t":50.7,"v":-45.6},{"p":"e","s":"D","t":54,"v":-46.7},{"p":"e","s":"D","t":56.5,"v":-46.3},{"p":"e","s":"D","t":58.9,"v":-45.6},{"p":"e","s":"D","t":61.5,"v":-44},{"p":"e","s":"D","t":63.8,"v":-42.1},{"p":"e","s":"D","t":65.5,"v":-40.5},{"p":"e","s":"D","t":67.1,"v":-38.7},{"p":"e","s":"D","t":68.5,"v":-36.5},{"p":"e","s":"D","t":69.5,"v":-34.3},{"p":"e","s":"D","t":70,"v":-33.5},{"p":"e","s":"D","t":72,"v":-60},{"p":"e","s":"D","t":75,"v":-60},{"p":"e","s":"D","t":78,"v":-60},{"p":"e","s":"D","t":81,"v":-60},{"p":"e","s":"D","t":84,"v":-60},{"p":"e","s":"D","t":87,"v":-60},{"p":"e","s":"D","t":90,"v":-60},{"p":"e","s":"D","t":93,"v":-60},{"p":"e","s":"D","t":96,"v":-60},{"p":"e","s":"D","t":99,"v":-60},{"p":"e","s":"D","t":102,"v":-60},{"p":"e","s":"D","t":105,"v":-60},{"p":"e","s":"D","t":108,"v":-60},{"p":"e","s":"D","t":108.8,"v":-18.8},{"p":"e","s":"D","t":111,"v":-19.1},{"p":"e","s":"D","t":114.5,"v":-19.6},{"p":"e","s":"D","t":118,"v":-20.6},{"p":"e","s":"D","t":122.7,"v":-21.9},{"p":"e","s":"D","t":126,"v":-23.4},{"p":"e","s":"D","t":130.9,"v":-25.4},{"p":"e","s":"D","t":134,"v":-27.2},{"p":"e","s":"D","t":137.5,"v":-29.4},{"p":"e","s":"D","t":140,"v":-31.3},{"p":"e","s":"D","t":142.4,"v":-33.5},{"p":"e","s":"D","t":145,"v":-31.6},{"p":"e","s":"D","t":147.3,"v":-30},{"p":"e","s":"D","t":150.5,"v":-27.7},{"p":"e","s":"D","t":153.8,"v":-25.4},{"p":"e","s":"D","t":157,"v":-23.6},{"p":"e","s":"D","t":160.4,"v":-21.9},{"p":"e","s":"D","t":163.5,"v":-20.6},{"p":"e","s":"D","t":166.9,"v":-19.6},{"p":"e","s":"D","t":170,"v":-19},{"p":"e","s":"D","t":173.5,"v":-18.5},{"p":"e","s":"D","t":176,"v":-18.5},{"p":"e","s":"D","t":177.6,"v":-18.8},{"p":"e","s":"D","t":179,"v":-19.8},{"p":"e","s":"D","t":180,"v":-21.6},
{"p":"e","s":"K","t":0,"v":-60},{"p":"e","s":"K","t":2,"v":-60},{"p":"e","s":"K","t":3.3,"v":-57.7},{"p":"e","s":"K","t":4.9,"v":-51.9},{"p":"e","s":"K","t":7.4,"v":-46.2},{"p":"e","s":"K","t":10,"v":-42.5},{"p":"e","s":"K","t":13.1,"v":-39.2},{"p":"e","s":"K","t":16.4,"v":-35.8},{"p":"e","s":"K","t":19,"v":-32.8},{"p":"e","s":"K","t":21.3,"v":-30},{"p":"e","s":"K","t":24.5,"v":-27},{"p":"e","s":"K","t":27.8,"v":-24.2},{"p":"e","s":"K","t":32,"v":-22},{"p":"e","s":"K","t":36,"v":-20.2},{"p":"e","s":"K","t":41,"v":-18.8},{"p":"e","s":"K","t":45.8,"v":-17.6},{"p":"e","s":"K","t":50,"v":-16.9},{"p":"e","s":"K","t":55.6,"v":-16.4},{"p":"e","s":"K","t":60,"v":-16.1},{"p":"e","s":"K","t":65.5,"v":-16},{"p":"e","s":"K","t":69,"v":-16.1},{"p":"e","s":"K","t":71.2,"v":-16.2},{"p":"e","s":"K","t":72.5,"v":-16.1},{"p":"e","s":"K","t":75.3,"v":-15.3},{"p":"e","s":"K","t":78.5,"v":-14.5},{"p":"e","s":"K","t":81.8,"v":-13.8},{"p":"e","s":"K","t":86,"v":-13.2},{"p":"e","s":"K","t":90,"v":-12.7},{"p":"e","s":"K","t":94,"v":-12.1},{"p":"e","s":"K","t":98.2,"v":-11.5},{"p":"e","s":"K","t":102.5,"v":-11.1},{"p":"e","s":"K","t":107.2,"v":-10.7},{"p":"e","s":"K","t":108,"v":-12.7},{"p":"e","s":"K","t":111,"v":-13.2},{"p":"e","s":"K","t":114.5,"v":-13.8},{"p":"e","s":"K","t":118.5,"v":-14.9},{"p":"e","s":"K","t":122.7,"v":-16.2},{"p":"e","s":"K","t":127,"v":-17.8},{"p":"e","s":"K","t":130.9,"v":-19.6},{"p":"e","s":"K","t":134,"v":-21},{"p":"e","s":"K","t":137.5,"v":-22.5},{"p":"e","s":"K","t":140,"v":-23.5},{"p":"e","s":"K","t":142.4,"v":-24.2},{"p":"e","s":"K","t":145,"v":-23.8},{"p":"e","s":"K","t":147.3,"v":-23.1},{"p":"e","s":"K","t":150.5,"v":-22.2},{"p":"e","s":"K","t":153.8,"v":-21.4},{"p":"e","s":"K","t":155,"v":-21.4},{"p":"e","s":"K","t":155.5,"v":-20.5},{"p":"e","s":"K","t":159,"v":-18.5},{"p":"e","s":"K","t":163.6,"v":-16.7},{"p":"e","s":"K","t":167.5,"v":-16.2},{"p":"e","s":"K","t":171.8,"v":-15.9},{"p":"e","s":"K","t":175,"v":-15.7},{"p":"e","s":"K","t":176.7,"v":-15.6},{"p":"e","s":"K","t":178.4,"v":-17.3},{"p":"e","s":"K","t":179.5,"v":-19},{"p":"e","s":"K","t":180,"v":-20},
{"p":"e","s":"B","t":0,"v":-60},{"p":"e","s":"B","t":1.6,"v":-60},{"p":"e","s":"B","t":2.5,"v":-58},{"p":"e","s":"B","t":3.3,"v":-54.8},{"p":"e","s":"B","t":4.9,"v":-48.5},{"p":"e","s":"B","t":6.5,"v":-43.5},{"p":"e","s":"B","t":8.2,"v":-40.4},{"p":"e","s":"B","t":10.5,"v":-37.5},{"p":"e","s":"B","t":13.1,"v":-35.2},{"p":"e","s":"B","t":16,"v":-32},{"p":"e","s":"B","t":19.6,"v":-29.4},{"p":"e","s":"B","t":23.5,"v":-26},{"p":"e","s":"B","t":27.8,"v":-23.1},{"p":"e","s":"B","t":32,"v":-20.8},{"p":"e","s":"B","t":36,"v":-19},{"p":"e","s":"B","t":41,"v":-17.9},{"p":"e","s":"B","t":45.8,"v":-17},{"p":"e","s":"B","t":50,"v":-16.5},{"p":"e","s":"B","t":55.6,"v":-16.2},{"p":"e","s":"B","t":60,"v":-16},{"p":"e","s":"B","t":65.5,"v":-15.9},{"p":"e","s":"B","t":70,"v":-16},{"p":"e","s":"B","t":72.5,"v":-16},{"p":"e","s":"B","t":75.3,"v":-15.2},{"p":"e","s":"B","t":78.5,"v":-14.5},{"p":"e","s":"B","t":81.8,"v":-13.7},{"p":"e","s":"B","t":86,"v":-13.2},{"p":"e","s":"B","t":90,"v":-12.6},{"p":"e","s":"B","t":94,"v":-12},{"p":"e","s":"B","t":98.2,"v":-11.4},{"p":"e","s":"B","t":102.5,"v":-11},{"p":"e","s":"B","t":107.2,"v":-10.6},{"p":"e","s":"B","t":108.2,"v":-60},{"p":"e","s":"B","t":113,"v":-60},{"p":"e","s":"B","t":118,"v":-60},{"p":"e","s":"B","t":123,"v":-60},{"p":"e","s":"B","t":128,"v":-60},{"p":"e","s":"B","t":133,"v":-60},{"p":"e","s":"B","t":138,"v":-60},{"p":"e","s":"B","t":143,"v":-60},{"p":"e","s":"B","t":148,"v":-60},{"p":"e","s":"B","t":153,"v":-60},{"p":"e","s":"B","t":158,"v":-60},{"p":"e","s":"B","t":163,"v":-60},{"p":"e","s":"B","t":168,"v":-60},{"p":"e","s":"B","t":173,"v":-60},{"p":"e","s":"B","t":178,"v":-60},{"p":"e","s":"B","t":180,"v":-60},
{"p":"e","s":"N","t":0,"v":-60},{"p":"e","s":"N","t":2,"v":-59},{"p":"e","s":"N","t":3.3,"v":-57},{"p":"e","s":"N","t":4.9,"v":-54.8},{"p":"e","s":"N","t":7,"v":-52},{"p":"e","s":"N","t":9.8,"v":-49.6},{"p":"e","s":"N","t":12,"v":-46},{"p":"e","s":"N","t":14.7,"v":-40.4},{"p":"e","s":"N","t":17,"v":-40},{"p":"e","s":"N","t":19.6,"v":-39.8},{"p":"e","s":"N","t":23,"v":-39.5},{"p":"e","s":"N","t":26.2,"v":-39.2},{"p":"e","s":"N","t":29,"v":-39},{"p":"e","s":"N","t":32.7,"v":-38.7},{"p":"e","s":"N","t":36,"v":-38.3},{"p":"e","s":"N","t":40.9,"v":-37.5},{"p":"e","s":"N","t":45,"v":-36.2},{"p":"e","s":"N","t":49.1,"v":-34.6},{"p":"e","s":"N","t":53,"v":-33},{"p":"e","s":"N","t":57.3,"v":-31.2},{"p":"e","s":"N","t":61.5,"v":-29.5},{"p":"e","s":"N","t":65.5,"v":-27.7},{"p":"e","s":"N","t":68,"v":-26},{"p":"e","s":"N","t":69.5,"v":-24.5},{"p":"e","s":"N","t":70.1,"v":-24},{"p":"e","s":"N","t":70.8,"v":-60},{"p":"e","s":"N","t":108,"v":-60},{"p":"e","s":"N","t":108.4,"v":-12.9},
{"p":"e","s":"T","t":16.4,"v":-60},{"p":"e","s":"T","t":20,"v":-56},{"p":"e","s":"T","t":24.5,"v":-51.9},{"p":"e","s":"T","t":28.5,"v":-48.5},{"p":"e","s":"T","t":32.7,"v":-45.6},{"p":"e","s":"T","t":36.5,"v":-42.5},{"p":"e","s":"T","t":40.9,"v":-39.8},{"p":"e","s":"T","t":45,"v":-37.7},{"p":"e","s":"T","t":49.1,"v":-35.8},{"p":"e","s":"T","t":53,"v":-34.3},{"p":"e","s":"T","t":57.3,"v":-32.9},{"p":"e","s":"T","t":61.5,"v":-31},{"p":"e","s":"T","t":65.5,"v":-28.9},{"p":"e","s":"T","t":68,"v":-27.3},{"p":"e","s":"T","t":70,"v":-26},
{"p":"e","s":"T2","t":108.8,"v":-20.8},{"p":"e","s":"T2","t":111,"v":-21.1},{"p":"e","s":"T2","t":114.5,"v":-21.6},{"p":"e","s":"T2","t":118.5,"v":-22.6},{"p":"e","s":"T2","t":122.7,"v":-23.7},{"p":"e","s":"T2","t":127,"v":-24.9},{"p":"e","s":"T2","t":130.9,"v":-26},{"p":"e","s":"T2","t":135,"v":-27},{"p":"e","s":"T2","t":139.1,"v":-27.7},{"p":"e","s":"T2","t":141.5,"v":-28.4},{"p":"e","s":"T2","t":144,"v":-28.9},{"p":"e","s":"T2","t":147,"v":-28.5},{"p":"e","s":"T2","t":150.5,"v":-27.7},{"p":"e","s":"T2","t":154.5,"v":-26.8},{"p":"e","s":"T2","t":158.7,"v":-26},{"p":"e","s":"T2","t":162.5,"v":-25.3},{"p":"e","s":"T2","t":166.9,"v":-24.8},{"p":"e","s":"T2","t":170,"v":-24.6},{"p":"e","s":"T2","t":173.5,"v":-24.5},{"p":"e","s":"T2","t":176,"v":-24.7},{"p":"e","s":"T2","t":178.4,"v":-25.4},{"p":"e","s":"T2","t":179.5,"v":-27},{"p":"e","s":"T2","t":180,"v":-28.9}
]},
"spacing":82,
"vconcat":[
{"spacing":91,"vconcat":[
{"spacing":106,"hconcat":[
{"width":363,"height":343,"title":{"text":"20lg(|Eосн.|/|Eосн.max|), дБ","dx":-39},"transform":[{"filter":"datum.p=='a'"}],
"encoding":{"x":{"field":"t","type":"quantitative","scale":{"domain":[0,180],"nice":false,"zero":false},"axis":{"title":null,"values":[0,45,90,135,180],"labelExpr":"datum.value==180 ? 'θ, °' : datum.label","labelAlign":{"condition":{"test":"datum.value==180","value":"right"},"value":"center"},"labelFlush":false,"labelPadding":19,"tickSize":-5}},"y":{"field":"v","type":"quantitative","scale":{"domain":[-60,0],"nice":false,"zero":false},"axis":{"title":null,"values":[0,-15,-30,-45,-60],"labelExpr":"datum.value==0 ? '0' : '-' + abs(datum.value)","labelPadding":19,"tickSize":-4}}},
"layer":[
{"transform":[{"filter":"substring(datum.s,0,1)=='T'"}],"mark":{"type":"line","strokeDash":[2,2.5],"strokeWidth":1.1},"encoding":{"detail":{"field":"s"}}},
{"transform":[{"filter":"datum.s=='N'"}],"mark":{"type":"line","strokeWidth":1}},
{"transform":[{"filter":"datum.s=='K'"}],"mark":{"type":"line","strokeWidth":2.6}},
{"transform":[{"filter":"datum.s=='B'"}],"mark":{"type":"line","strokeWidth":1.5}},
{"transform":[{"filter":"datum.s=='D'"}],"mark":{"type":"line","strokeWidth":1.2}},
{"transform":[{"filter":"datum.s=='B'"}],"mark":{"type":"point","shape":"circle","filled":true,"size":14,"opacity":1}},
{"transform":[{"filter":"datum.s=='D'"}],"mark":{"type":"point","shape":"diamond","filled":true,"fill":"#fafafa","stroke":"#1a1a1a","strokeWidth":1,"size":70,"opacity":1}},
{"transform":[{"filter":"datum.s=='K' && datum.t==0"}],"mark":{"type":"text","text":"а)","align":"right","baseline":"alphabetic","font":"Liberation Serif","fontSize":21},"encoding":{"x":{"datum":177},"y":{"datum":-4.8}}}
]},
{"width":363,"height":343,"title":{"text":"20lg(|Eпоп.|/|Eосн.max|), дБ","dx":-28},"transform":[{"filter":"datum.p=='b'"}],
"encoding":{"x":{"field":"t","type":"quantitative","scale":{"domain":[0,180],"nice":false,"zero":false},"axis":{"title":null,"values":[0,45,90,135,180],"labelExpr":"datum.value==180 ? 'θ, °' : datum.label","labelAlign":{"condition":{"test":"datum.value==180","value":"right"},"value":"center"},"labelFlush":false,"labelPadding":19,"tickSize":-5}},"y":{"field":"v","type":"quantitative","scale":{"domain":[-60,0],"nice":false,"zero":false},"axis":{"title":null,"values":[0,-15,-30,-45,-60],"labelExpr":"datum.value==0 ? '0' : '-' + abs(datum.value)","labelPadding":19,"tickSize":-4}}},
"layer":[
{"transform":[{"filter":"substring(datum.s,0,1)=='T'"}],"mark":{"type":"line","strokeDash":[2,2.5],"strokeWidth":1.1},"encoding":{"detail":{"field":"s"}}},
{"transform":[{"filter":"datum.s=='N'"}],"mark":{"type":"line","strokeWidth":1}},
{"transform":[{"filter":"datum.s=='K'"}],"mark":{"type":"line","strokeWidth":2.6}},
{"transform":[{"filter":"datum.s=='B'"}],"mark":{"type":"line","strokeWidth":1.5}},
{"transform":[{"filter":"datum.s=='D'"}],"mark":{"type":"line","strokeWidth":1.2}},
{"transform":[{"filter":"datum.s=='B'"}],"mark":{"type":"point","shape":"circle","filled":true,"size":14,"opacity":1}},
{"transform":[{"filter":"datum.s=='D'"}],"mark":{"type":"point","shape":"diamond","filled":true,"fill":"#fafafa","stroke":"#1a1a1a","strokeWidth":1,"size":70,"opacity":1}},
{"transform":[{"filter":"datum.s=='K' && datum.t==0"}],"mark":{"type":"text","text":"б)","align":"right","baseline":"alphabetic","font":"Liberation Serif","fontSize":21},"encoding":{"x":{"datum":177},"y":{"datum":-4.8}}}
]}
]},
{"spacing":106,"hconcat":[
{"width":363,"height":343,"title":{"text":"20lg(|Eосн.|/|Eосн.max|), дБ","dx":-34},"transform":[{"filter":"datum.p=='v'"}],
"encoding":{"x":{"field":"t","type":"quantitative","scale":{"domain":[0,180],"nice":false,"zero":false},"axis":{"title":null,"values":[0,45,90,135,180],"labelExpr":"datum.value==180 ? 'θ, °' : datum.label","labelAlign":{"condition":{"test":"datum.value==180","value":"right"},"value":"center"},"labelFlush":false,"labelPadding":19,"tickSize":-5}},"y":{"field":"v","type":"quantitative","scale":{"domain":[-60,0],"nice":false,"zero":false},"axis":{"title":null,"values":[0,-15,-30,-45,-60],"labelExpr":"datum.value==0 ? '0' : '-' + abs(datum.value)","labelPadding":19,"tickSize":-4}}},
"layer":[
{"transform":[{"filter":"substring(datum.s,0,1)=='T'"}],"mark":{"type":"line","strokeDash":[2,2.5],"strokeWidth":1.1},"encoding":{"detail":{"field":"s"}}},
{"transform":[{"filter":"datum.s=='N'"}],"mark":{"type":"line","strokeWidth":1}},
{"transform":[{"filter":"datum.s=='K'"}],"mark":{"type":"line","strokeWidth":2.6}},
{"transform":[{"filter":"datum.s=='B'"}],"mark":{"type":"line","strokeWidth":1.5}},
{"transform":[{"filter":"datum.s=='D'"}],"mark":{"type":"line","strokeWidth":1.2}},
{"transform":[{"filter":"datum.s=='B'"}],"mark":{"type":"point","shape":"circle","filled":true,"size":14,"opacity":1}},
{"transform":[{"filter":"datum.s=='D'"}],"mark":{"type":"point","shape":"diamond","filled":true,"fill":"#fafafa","stroke":"#1a1a1a","strokeWidth":1,"size":70,"opacity":1}},
{"transform":[{"filter":"datum.s=='K' && datum.t==0"}],"mark":{"type":"text","text":"в)","align":"right","baseline":"alphabetic","font":"Liberation Serif","fontSize":21},"encoding":{"x":{"datum":176},"y":{"datum":-5.5}}}
]},
{"width":363,"height":343,"title":{"text":"20lg(|Eпоп.|/|Eосн.max|), дБ","dx":-36},"transform":[{"filter":"datum.p=='g'"}],
"encoding":{"x":{"field":"t","type":"quantitative","scale":{"domain":[0,180],"nice":false,"zero":false},"axis":{"title":null,"values":[0,45,90,135,180],"labelExpr":"datum.value==180 ? 'θ, °' : datum.label","labelAlign":{"condition":{"test":"datum.value==180","value":"right"},"value":"center"},"labelFlush":false,"labelPadding":19,"tickSize":-5}},"y":{"field":"v","type":"quantitative","scale":{"domain":[-60,0],"nice":false,"zero":false},"axis":{"title":null,"values":[0,-15,-30,-45,-60],"labelExpr":"datum.value==0 ? '0' : '-' + abs(datum.value)","labelPadding":19,"tickSize":-4}}},
"layer":[
{"transform":[{"filter":"substring(datum.s,0,1)=='T'"}],"mark":{"type":"line","strokeDash":[2,2.5],"strokeWidth":1.1},"encoding":{"detail":{"field":"s"}}},
{"transform":[{"filter":"datum.s=='N'"}],"mark":{"type":"line","strokeWidth":1}},
{"transform":[{"filter":"datum.s=='K'"}],"mark":{"type":"line","strokeWidth":2.6}},
{"transform":[{"filter":"datum.s=='B'"}],"mark":{"type":"line","strokeWidth":1.5}},
{"transform":[{"filter":"datum.s=='D'"}],"mark":{"type":"line","strokeWidth":1.2}},
{"transform":[{"filter":"datum.s=='B'"}],"mark":{"type":"point","shape":"circle","filled":true,"size":14,"opacity":1}},
{"transform":[{"filter":"datum.s=='D'"}],"mark":{"type":"point","shape":"diamond","filled":true,"fill":"#fafafa","stroke":"#1a1a1a","strokeWidth":1,"size":70,"opacity":1}},
{"transform":[{"filter":"datum.s=='K' && datum.t==0"}],"mark":{"type":"text","text":"г)","align":"right","baseline":"alphabetic","font":"Liberation Serif","fontSize":21},"encoding":{"x":{"datum":175},"y":{"datum":-5.5}}}
]}
]}
]},
{"spacing":106,"hconcat":[
{"width":363,"height":343,"title":{"text":"20lg(|Eпоп.|/|Eосн.max|), дБ","dx":-37},"transform":[{"filter":"datum.p=='d'"}],
"encoding":{"x":{"field":"t","type":"quantitative","scale":{"domain":[0,180],"nice":false,"zero":false},"axis":{"title":null,"values":[0,45,90,135,180],"labelExpr":"datum.value==180 ? 'θ, °' : datum.label","labelAlign":{"condition":{"test":"datum.value==180","value":"right"},"value":"center"},"labelFlush":false,"labelPadding":19,"tickSize":-5}},"y":{"field":"v","type":"quantitative","scale":{"domain":[-60,0],"nice":false,"zero":false},"axis":{"title":null,"values":[0,-15,-30,-45,-60],"labelExpr":"datum.value==0 ? '0' : '-' + abs(datum.value)","labelPadding":19,"tickSize":-4}}},
"layer":[
{"transform":[{"filter":"substring(datum.s,0,1)=='T'"}],"mark":{"type":"line","strokeDash":[2,2.5],"strokeWidth":1.1},"encoding":{"detail":{"field":"s"}}},
{"transform":[{"filter":"datum.s=='N'"}],"mark":{"type":"line","strokeWidth":1}},
{"transform":[{"filter":"datum.s=='K'"}],"mark":{"type":"line","strokeWidth":2.6}},
{"transform":[{"filter":"datum.s=='B'"}],"mark":{"type":"line","strokeWidth":1.5}},
{"transform":[{"filter":"datum.s=='D'"}],"mark":{"type":"line","strokeWidth":1.2}},
{"transform":[{"filter":"datum.s=='B'"}],"mark":{"type":"point","shape":"circle","filled":true,"size":14,"opacity":1}},
{"transform":[{"filter":"datum.s=='D'"}],"mark":{"type":"point","shape":"diamond","filled":true,"fill":"#fafafa","stroke":"#1a1a1a","strokeWidth":1,"size":70,"opacity":1}},
{"transform":[{"filter":"datum.s=='K' && datum.t==0"}],"mark":{"type":"text","text":"д)","align":"right","baseline":"alphabetic","font":"Liberation Serif","fontSize":21},"encoding":{"x":{"datum":176},"y":{"datum":-4.9}}}
]},
{"width":363,"height":343,"title":{"text":"20lg(|Eпоп.|/|Eосн.max|), дБ","dx":-32},"transform":[{"filter":"datum.p=='e'"}],
"encoding":{"x":{"field":"t","type":"quantitative","scale":{"domain":[0,180],"nice":false,"zero":false},"axis":{"title":null,"values":[0,45,90,135,180],"labelExpr":"datum.value==180 ? 'θ, °' : datum.label","labelAlign":{"condition":{"test":"datum.value==180","value":"right"},"value":"center"},"labelFlush":false,"labelPadding":19,"tickSize":-5}},"y":{"field":"v","type":"quantitative","scale":{"domain":[-60,0],"nice":false,"zero":false},"axis":{"title":null,"values":[0,-15,-30,-45,-60],"labelExpr":"datum.value==0 ? '0' : '-' + abs(datum.value)","labelPadding":19,"tickSize":-4}}},
"layer":[
{"transform":[{"filter":"substring(datum.s,0,1)=='T'"}],"mark":{"type":"line","strokeDash":[2,2.5],"strokeWidth":1.1},"encoding":{"detail":{"field":"s"}}},
{"transform":[{"filter":"datum.s=='N'"}],"mark":{"type":"line","strokeWidth":1}},
{"transform":[{"filter":"datum.s=='K'"}],"mark":{"type":"line","strokeWidth":2.6}},
{"transform":[{"filter":"datum.s=='B'"}],"mark":{"type":"line","strokeWidth":1.5}},
{"transform":[{"filter":"datum.s=='D'"}],"mark":{"type":"line","strokeWidth":1.2}},
{"transform":[{"filter":"datum.s=='B'"}],"mark":{"type":"point","shape":"circle","filled":true,"size":14,"opacity":1}},
{"transform":[{"filter":"datum.s=='D'"}],"mark":{"type":"point","shape":"diamond","filled":true,"fill":"#fafafa","stroke":"#1a1a1a","strokeWidth":1,"size":70,"opacity":1}},
{"transform":[{"filter":"datum.s=='K' && datum.t==0"}],"mark":{"type":"text","text":"е)","align":"right","baseline":"alphabetic","font":"Liberation Serif","fontSize":21},"encoding":{"x":{"datum":176.5},"y":{"datum":-5.2}}}
]}
]}
]
}
